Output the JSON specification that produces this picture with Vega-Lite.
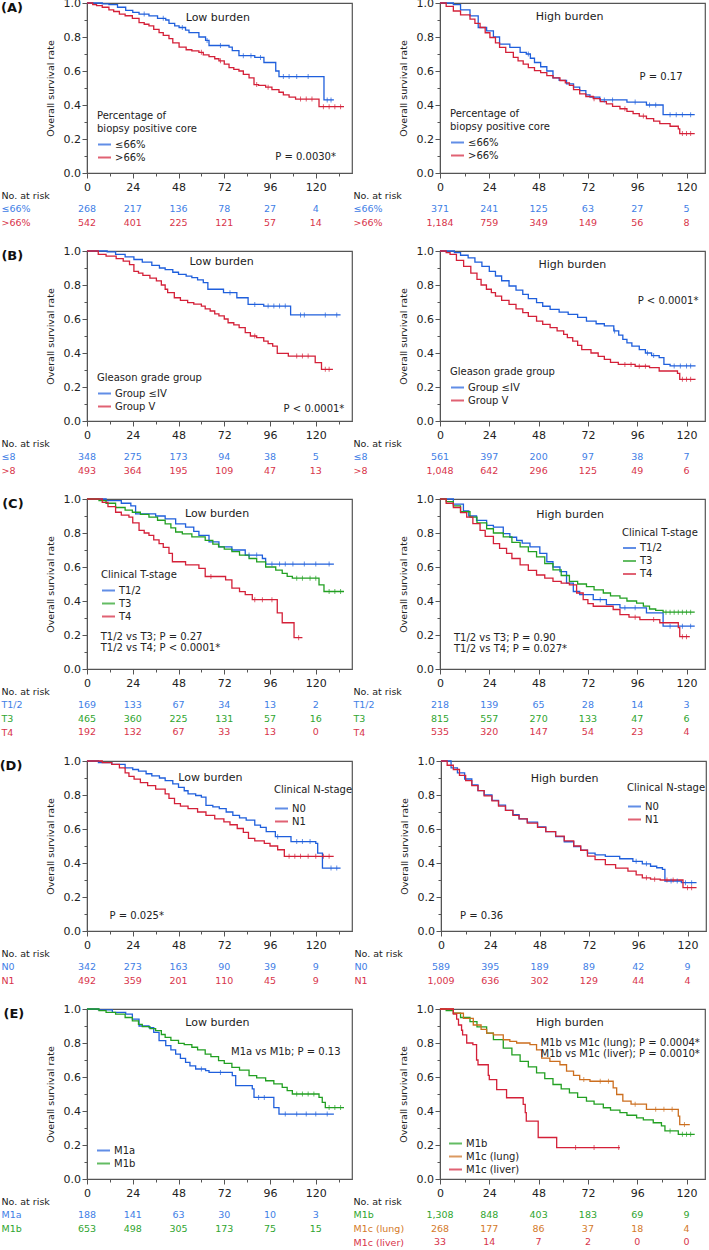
{
"$schema": "https://vega.github.io/schema/vega-lite/v6.json",
"padding": {"left": -1, "top": -4, "right": 0, "bottom": 0},
"config": {
 "font": "DejaVu Sans",
 "view": {"stroke": "#555", "strokeWidth": 1.2},
 "axis": {"labelColor": "#222", "domainColor": "#555", "tickColor": "#555", "grid": false, "labelFontSize": 11, "titleFontSize": 9.5, "titleFontWeight": "normal", "titleColor": "#222", "labelOverlap": false},
 "legend": {"orient": "none", "titleFontSize": 10, "titleFontWeight": "normal", "titleColor": "#222", "titleLineHeight": 13, "titlePadding": 3, "labelFontSize": 10, "labelColor": "#222", "symbolType": "stroke", "symbolSize": 169, "symbolStrokeWidth": 2, "rowPadding": 0, "labelOffset": 3, "padding": 0},
 "title": {"orient": "left", "anchor": "end", "angle": 0, "align": "right", "baseline": "middle", "fontSize": 13, "fontWeight": "bold", "offset": 0, "dx": 4, "dy": 5, "color": "#111"},
 "text": {"color": "#222"}
},
"datasets": {
"km": [
{"p":"A1","g":"≤66%","t":0,"s":1},{"p":"A1","g":"≤66%","t":8,"s":0.995},{"p":"A1","g":"≤66%","t":11.5,"s":0.99},{"p":"A1","g":"≤66%","t":16,"s":0.975},{"p":"A1","g":"≤66%","t":20.3,"s":0.957},{"p":"A1","g":"≤66%","t":24,"s":0.945},{"p":"A1","g":"≤66%","t":27.3,"s":0.935},{"p":"A1","g":"≤66%","t":32.5,"s":0.924},{"p":"A1","g":"≤66%","t":37,"s":0.91},{"p":"A1","g":"≤66%","t":41.3,"s":0.9},{"p":"A1","g":"≤66%","t":43,"s":0.88},{"p":"A1","g":"≤66%","t":46,"s":0.865},{"p":"A1","g":"≤66%","t":48.3,"s":0.856},{"p":"A1","g":"≤66%","t":51.7,"s":0.84},{"p":"A1","g":"≤66%","t":53.5,"s":0.826},{"p":"A1","g":"≤66%","t":58.7,"s":0.8},{"p":"A1","g":"≤66%","t":62.2,"s":0.78},{"p":"A1","g":"≤66%","t":64,"s":0.75},{"p":"A1","g":"≤66%","t":74.5,"s":0.74},{"p":"A1","g":"≤66%","t":76.2,"s":0.72},{"p":"A1","g":"≤66%","t":79.7,"s":0.69},{"p":"A1","g":"≤66%","t":88,"s":0.68},{"p":"A1","g":"≤66%","t":92.8,"s":0.65},{"p":"A1","g":"≤66%","t":99,"s":0.6},{"p":"A1","g":"≤66%","t":100.7,"s":0.567},{"p":"A1","g":"≤66%","t":124.3,"s":0.43},{"p":"A1","g":"≤66%","t":129.5,"s":0.43},
{"p":"A1","g":">66%","t":0,"s":1},{"p":"A1","g":">66%","t":3,"s":0.99},{"p":"A1","g":">66%","t":5,"s":0.985},{"p":"A1","g":">66%","t":8,"s":0.975},{"p":"A1","g":">66%","t":11.5,"s":0.96},{"p":"A1","g":">66%","t":14,"s":0.95},{"p":"A1","g":">66%","t":17,"s":0.935},{"p":"A1","g":">66%","t":20,"s":0.925},{"p":"A1","g":">66%","t":23.8,"s":0.91},{"p":"A1","g":">66%","t":27.3,"s":0.885},{"p":"A1","g":">66%","t":30,"s":0.875},{"p":"A1","g":">66%","t":32.5,"s":0.865},{"p":"A1","g":">66%","t":35,"s":0.845},{"p":"A1","g":">66%","t":37.8,"s":0.826},{"p":"A1","g":">66%","t":40,"s":0.81},{"p":"A1","g":">66%","t":43,"s":0.79},{"p":"A1","g":">66%","t":45,"s":0.765},{"p":"A1","g":">66%","t":48.3,"s":0.74},{"p":"A1","g":">66%","t":52,"s":0.725},{"p":"A1","g":">66%","t":55,"s":0.718},{"p":"A1","g":">66%","t":58.7,"s":0.71},{"p":"A1","g":">66%","t":61,"s":0.695},{"p":"A1","g":">66%","t":64,"s":0.685},{"p":"A1","g":">66%","t":67,"s":0.672},{"p":"A1","g":">66%","t":69.2,"s":0.66},{"p":"A1","g":">66%","t":72,"s":0.64},{"p":"A1","g":">66%","t":74.5,"s":0.62},{"p":"A1","g":">66%","t":77,"s":0.61},{"p":"A1","g":">66%","t":79.7,"s":0.6},{"p":"A1","g":">66%","t":82,"s":0.58},{"p":"A1","g":">66%","t":85,"s":0.56},{"p":"A1","g":">66%","t":87.6,"s":0.52},{"p":"A1","g":">66%","t":90,"s":0.515},{"p":"A1","g":">66%","t":93.7,"s":0.505},{"p":"A1","g":">66%","t":97,"s":0.49},{"p":"A1","g":">66%","t":100.7,"s":0.475},{"p":"A1","g":">66%","t":103,"s":0.46},{"p":"A1","g":">66%","t":106,"s":0.446},{"p":"A1","g":">66%","t":109.4,"s":0.435},{"p":"A1","g":">66%","t":121.7,"s":0.39},{"p":"A1","g":">66%","t":134.8,"s":0.39},
{"p":"A2","g":"≤66%","t":0,"s":1},{"p":"A2","g":"≤66%","t":6.5,"s":0.99},{"p":"A2","g":"≤66%","t":10,"s":0.96},{"p":"A2","g":"≤66%","t":14.6,"s":0.924},{"p":"A2","g":"≤66%","t":18.6,"s":0.856},{"p":"A2","g":"≤66%","t":22.7,"s":0.836},{"p":"A2","g":"≤66%","t":26,"s":0.8},{"p":"A2","g":"≤66%","t":29,"s":0.758},{"p":"A2","g":"≤66%","t":34,"s":0.739},{"p":"A2","g":"≤66%","t":39,"s":0.71},{"p":"A2","g":"≤66%","t":42,"s":0.7},{"p":"A2","g":"≤66%","t":44,"s":0.675},{"p":"A2","g":"≤66%","t":46,"s":0.65},{"p":"A2","g":"≤66%","t":49,"s":0.625},{"p":"A2","g":"≤66%","t":52,"s":0.6},{"p":"A2","g":"≤66%","t":55,"s":0.56},{"p":"A2","g":"≤66%","t":58,"s":0.545},{"p":"A2","g":"≤66%","t":61.6,"s":0.524},{"p":"A2","g":"≤66%","t":65,"s":0.505},{"p":"A2","g":"≤66%","t":68,"s":0.485},{"p":"A2","g":"≤66%","t":71,"s":0.46},{"p":"A2","g":"≤66%","t":73,"s":0.446},{"p":"A2","g":"≤66%","t":77.8,"s":0.43},{"p":"A2","g":"≤66%","t":91,"s":0.417},{"p":"A2","g":"≤66%","t":100.5,"s":0.4},{"p":"A2","g":"≤66%","t":108.6,"s":0.343},{"p":"A2","g":"≤66%","t":124,"s":0.343},
{"p":"A2","g":">66%","t":0,"s":1},{"p":"A2","g":">66%","t":3,"s":0.98},{"p":"A2","g":">66%","t":6.5,"s":0.953},{"p":"A2","g":">66%","t":10,"s":0.93},{"p":"A2","g":">66%","t":14.6,"s":0.905},{"p":"A2","g":">66%","t":17,"s":0.88},{"p":"A2","g":">66%","t":19.5,"s":0.856},{"p":"A2","g":">66%","t":22,"s":0.825},{"p":"A2","g":">66%","t":24.3,"s":0.797},{"p":"A2","g":">66%","t":27,"s":0.765},{"p":"A2","g":">66%","t":29,"s":0.739},{"p":"A2","g":">66%","t":32,"s":0.71},{"p":"A2","g":">66%","t":35.7,"s":0.68},{"p":"A2","g":">66%","t":38,"s":0.66},{"p":"A2","g":">66%","t":40.5,"s":0.641},{"p":"A2","g":">66%","t":43,"s":0.62},{"p":"A2","g":">66%","t":46,"s":0.602},{"p":"A2","g":">66%","t":49,"s":0.59},{"p":"A2","g":">66%","t":52,"s":0.573},{"p":"A2","g":">66%","t":55,"s":0.56},{"p":"A2","g":">66%","t":58.4,"s":0.544},{"p":"A2","g":">66%","t":61,"s":0.53},{"p":"A2","g":">66%","t":63,"s":0.515},{"p":"A2","g":">66%","t":65,"s":0.49},{"p":"A2","g":">66%","t":68,"s":0.466},{"p":"A2","g":">66%","t":71,"s":0.45},{"p":"A2","g":">66%","t":74.6,"s":0.437},{"p":"A2","g":">66%","t":78,"s":0.42},{"p":"A2","g":">66%","t":81,"s":0.407},{"p":"A2","g":">66%","t":84,"s":0.392},{"p":"A2","g":">66%","t":87.6,"s":0.378},{"p":"A2","g":">66%","t":91,"s":0.362},{"p":"A2","g":">66%","t":94,"s":0.349},{"p":"A2","g":">66%","t":97,"s":0.335},{"p":"A2","g":">66%","t":100.5,"s":0.32},{"p":"A2","g":">66%","t":104,"s":0.305},{"p":"A2","g":">66%","t":107,"s":0.29},{"p":"A2","g":">66%","t":112,"s":0.275},{"p":"A2","g":">66%","t":116,"s":0.26},{"p":"A2","g":">66%","t":116.7,"s":0.232},{"p":"A2","g":">66%","t":124,"s":0.232},
{"p":"B1","g":"Group ≤IV","t":0,"s":1},{"p":"B1","g":"Group ≤IV","t":10.6,"s":0.995},{"p":"B1","g":"Group ≤IV","t":15,"s":0.98},{"p":"B1","g":"Group ≤IV","t":20,"s":0.965},{"p":"B1","g":"Group ≤IV","t":24.6,"s":0.95},{"p":"B1","g":"Group ≤IV","t":29,"s":0.935},{"p":"B1","g":"Group ≤IV","t":34,"s":0.916},{"p":"B1","g":"Group ≤IV","t":38,"s":0.9},{"p":"B1","g":"Group ≤IV","t":41,"s":0.89},{"p":"B1","g":"Group ≤IV","t":45,"s":0.875},{"p":"B1","g":"Group ≤IV","t":48,"s":0.863},{"p":"B1","g":"Group ≤IV","t":52,"s":0.852},{"p":"B1","g":"Group ≤IV","t":55,"s":0.843},{"p":"B1","g":"Group ≤IV","t":58,"s":0.83},{"p":"B1","g":"Group ≤IV","t":61,"s":0.814},{"p":"B1","g":"Group ≤IV","t":63.4,"s":0.775},{"p":"B1","g":"Group ≤IV","t":71.6,"s":0.755},{"p":"B1","g":"Group ≤IV","t":78.6,"s":0.725},{"p":"B1","g":"Group ≤IV","t":84.5,"s":0.686},{"p":"B1","g":"Group ≤IV","t":92.7,"s":0.676},{"p":"B1","g":"Group ≤IV","t":106.8,"s":0.624},{"p":"B1","g":"Group ≤IV","t":133,"s":0.624},
{"p":"B1","g":"Group V","t":0,"s":1},{"p":"B1","g":"Group V","t":5.9,"s":0.98},{"p":"B1","g":"Group V","t":10,"s":0.97},{"p":"B1","g":"Group V","t":15.3,"s":0.955},{"p":"B1","g":"Group V","t":19,"s":0.94},{"p":"B1","g":"Group V","t":22.3,"s":0.92},{"p":"B1","g":"Group V","t":24.6,"s":0.88},{"p":"B1","g":"Group V","t":27,"s":0.87},{"p":"B1","g":"Group V","t":29.3,"s":0.857},{"p":"B1","g":"Group V","t":33,"s":0.84},{"p":"B1","g":"Group V","t":36.4,"s":0.824},{"p":"B1","g":"Group V","t":39,"s":0.8},{"p":"B1","g":"Group V","t":41,"s":0.775},{"p":"B1","g":"Group V","t":42.3,"s":0.755},{"p":"B1","g":"Group V","t":45.8,"s":0.725},{"p":"B1","g":"Group V","t":49,"s":0.71},{"p":"B1","g":"Group V","t":52.8,"s":0.696},{"p":"B1","g":"Group V","t":56,"s":0.688},{"p":"B1","g":"Group V","t":60,"s":0.676},{"p":"B1","g":"Group V","t":62,"s":0.66},{"p":"B1","g":"Group V","t":64.6,"s":0.647},{"p":"B1","g":"Group V","t":67,"s":0.63},{"p":"B1","g":"Group V","t":69.2,"s":0.618},{"p":"B1","g":"Group V","t":72,"s":0.6},{"p":"B1","g":"Group V","t":74,"s":0.578},{"p":"B1","g":"Group V","t":77,"s":0.565},{"p":"B1","g":"Group V","t":79.8,"s":0.549},{"p":"B1","g":"Group V","t":83,"s":0.52},{"p":"B1","g":"Group V","t":85.7,"s":0.5},{"p":"B1","g":"Group V","t":89,"s":0.49},{"p":"B1","g":"Group V","t":92.7,"s":0.47},{"p":"B1","g":"Group V","t":95,"s":0.455},{"p":"B1","g":"Group V","t":97.4,"s":0.441},{"p":"B1","g":"Group V","t":99.8,"s":0.398},{"p":"B1","g":"Group V","t":105.6,"s":0.382},{"p":"B1","g":"Group V","t":119.7,"s":0.343},{"p":"B1","g":"Group V","t":123,"s":0.304},{"p":"B1","g":"Group V","t":129,"s":0.304},
{"p":"B2","g":"Group ≤IV","t":0,"s":1},{"p":"B2","g":"Group ≤IV","t":7,"s":0.99},{"p":"B2","g":"Group ≤IV","t":10,"s":0.975},{"p":"B2","g":"Group ≤IV","t":13.7,"s":0.96},{"p":"B2","g":"Group ≤IV","t":17,"s":0.935},{"p":"B2","g":"Group ≤IV","t":20.4,"s":0.91},{"p":"B2","g":"Group ≤IV","t":24,"s":0.88},{"p":"B2","g":"Group ≤IV","t":27,"s":0.853},{"p":"B2","g":"Group ≤IV","t":30,"s":0.825},{"p":"B2","g":"Group ≤IV","t":33.6,"s":0.794},{"p":"B2","g":"Group ≤IV","t":37,"s":0.77},{"p":"B2","g":"Group ≤IV","t":40.3,"s":0.745},{"p":"B2","g":"Group ≤IV","t":43,"s":0.72},{"p":"B2","g":"Group ≤IV","t":47,"s":0.696},{"p":"B2","g":"Group ≤IV","t":50,"s":0.675},{"p":"B2","g":"Group ≤IV","t":53.6,"s":0.657},{"p":"B2","g":"Group ≤IV","t":58,"s":0.64},{"p":"B2","g":"Group ≤IV","t":62.4,"s":0.627},{"p":"B2","g":"Group ≤IV","t":67,"s":0.61},{"p":"B2","g":"Group ≤IV","t":71.3,"s":0.588},{"p":"B2","g":"Group ≤IV","t":76,"s":0.572},{"p":"B2","g":"Group ≤IV","t":80,"s":0.559},{"p":"B2","g":"Group ≤IV","t":84.6,"s":0.53},{"p":"B2","g":"Group ≤IV","t":87,"s":0.505},{"p":"B2","g":"Group ≤IV","t":89,"s":0.48},{"p":"B2","g":"Group ≤IV","t":91,"s":0.46},{"p":"B2","g":"Group ≤IV","t":93.4,"s":0.441},{"p":"B2","g":"Group ≤IV","t":97,"s":0.42},{"p":"B2","g":"Group ≤IV","t":100,"s":0.4},{"p":"B2","g":"Group ≤IV","t":103,"s":0.385},{"p":"B2","g":"Group ≤IV","t":106.7,"s":0.373},{"p":"B2","g":"Group ≤IV","t":109,"s":0.333},{"p":"B2","g":"Group ≤IV","t":112,"s":0.324},{"p":"B2","g":"Group ≤IV","t":124.4,"s":0.324},
{"p":"B2","g":"Group V","t":0,"s":1},{"p":"B2","g":"Group V","t":3,"s":0.99},{"p":"B2","g":"Group V","t":4.9,"s":0.98},{"p":"B2","g":"Group V","t":8,"s":0.945},{"p":"B2","g":"Group V","t":11.5,"s":0.91},{"p":"B2","g":"Group V","t":15,"s":0.87},{"p":"B2","g":"Group V","t":18,"s":0.833},{"p":"B2","g":"Group V","t":20,"s":0.8},{"p":"B2","g":"Group V","t":22.6,"s":0.775},{"p":"B2","g":"Group V","t":25,"s":0.755},{"p":"B2","g":"Group V","t":27,"s":0.735},{"p":"B2","g":"Group V","t":30,"s":0.71},{"p":"B2","g":"Group V","t":33.6,"s":0.686},{"p":"B2","g":"Group V","t":37,"s":0.66},{"p":"B2","g":"Group V","t":40.3,"s":0.637},{"p":"B2","g":"Group V","t":43,"s":0.615},{"p":"B2","g":"Group V","t":47,"s":0.588},{"p":"B2","g":"Group V","t":50,"s":0.568},{"p":"B2","g":"Group V","t":53.6,"s":0.549},{"p":"B2","g":"Group V","t":57,"s":0.53},{"p":"B2","g":"Group V","t":60.2,"s":0.51},{"p":"B2","g":"Group V","t":62,"s":0.49},{"p":"B2","g":"Group V","t":64.6,"s":0.47},{"p":"B2","g":"Group V","t":67,"s":0.445},{"p":"B2","g":"Group V","t":69,"s":0.42},{"p":"B2","g":"Group V","t":73.5,"s":0.4},{"p":"B2","g":"Group V","t":77,"s":0.38},{"p":"B2","g":"Group V","t":80,"s":0.363},{"p":"B2","g":"Group V","t":83,"s":0.345},{"p":"B2","g":"Group V","t":86.8,"s":0.333},{"p":"B2","g":"Group V","t":95,"s":0.322},{"p":"B2","g":"Group V","t":102,"s":0.314},{"p":"B2","g":"Group V","t":106.7,"s":0.294},{"p":"B2","g":"Group V","t":115.6,"s":0.28},{"p":"B2","g":"Group V","t":116.7,"s":0.245},{"p":"B2","g":"Group V","t":124.4,"s":0.245},
{"p":"C1","g":"T1/2","t":0,"s":1},{"p":"C1","g":"T1/2","t":10,"s":0.99},{"p":"C1","g":"T1/2","t":18,"s":0.975},{"p":"C1","g":"T1/2","t":23,"s":0.96},{"p":"C1","g":"T1/2","t":25.5,"s":0.913},{"p":"C1","g":"T1/2","t":36,"s":0.9},{"p":"C1","g":"T1/2","t":41,"s":0.883},{"p":"C1","g":"T1/2","t":46.5,"s":0.854},{"p":"C1","g":"T1/2","t":51.7,"s":0.835},{"p":"C1","g":"T1/2","t":56,"s":0.81},{"p":"C1","g":"T1/2","t":58.7,"s":0.786},{"p":"C1","g":"T1/2","t":64,"s":0.748},{"p":"C1","g":"T1/2","t":69.2,"s":0.718},{"p":"C1","g":"T1/2","t":76,"s":0.7},{"p":"C1","g":"T1/2","t":83,"s":0.67},{"p":"C1","g":"T1/2","t":92,"s":0.65},{"p":"C1","g":"T1/2","t":93.7,"s":0.617},{"p":"C1","g":"T1/2","t":129.5,"s":0.617},
{"p":"C1","g":"T3","t":0,"s":1},{"p":"C1","g":"T3","t":6.3,"s":0.99},{"p":"C1","g":"T3","t":10,"s":0.975},{"p":"C1","g":"T3","t":15,"s":0.95},{"p":"C1","g":"T3","t":20,"s":0.935},{"p":"C1","g":"T3","t":23.8,"s":0.922},{"p":"C1","g":"T3","t":28,"s":0.91},{"p":"C1","g":"T3","t":32.5,"s":0.893},{"p":"C1","g":"T3","t":37,"s":0.875},{"p":"C1","g":"T3","t":41,"s":0.854},{"p":"C1","g":"T3","t":44,"s":0.83},{"p":"C1","g":"T3","t":46.5,"s":0.806},{"p":"C1","g":"T3","t":50,"s":0.795},{"p":"C1","g":"T3","t":55,"s":0.777},{"p":"C1","g":"T3","t":62,"s":0.757},{"p":"C1","g":"T3","t":66,"s":0.735},{"p":"C1","g":"T3","t":69,"s":0.718},{"p":"C1","g":"T3","t":72,"s":0.705},{"p":"C1","g":"T3","t":76,"s":0.69},{"p":"C1","g":"T3","t":80,"s":0.67},{"p":"C1","g":"T3","t":85,"s":0.65},{"p":"C1","g":"T3","t":89,"s":0.63},{"p":"C1","g":"T3","t":93.7,"s":0.6},{"p":"C1","g":"T3","t":99,"s":0.582},{"p":"C1","g":"T3","t":102.4,"s":0.563},{"p":"C1","g":"T3","t":105,"s":0.545},{"p":"C1","g":"T3","t":107.7,"s":0.534},{"p":"C1","g":"T3","t":121.7,"s":0.495},{"p":"C1","g":"T3","t":124.3,"s":0.456},{"p":"C1","g":"T3","t":134.8,"s":0.456},
{"p":"C1","g":"T4","t":0,"s":1},{"p":"C1","g":"T4","t":8,"s":0.98},{"p":"C1","g":"T4","t":11,"s":0.955},{"p":"C1","g":"T4","t":15,"s":0.922},{"p":"C1","g":"T4","t":18,"s":0.905},{"p":"C1","g":"T4","t":22,"s":0.893},{"p":"C1","g":"T4","t":24,"s":0.86},{"p":"C1","g":"T4","t":27.3,"s":0.816},{"p":"C1","g":"T4","t":30,"s":0.8},{"p":"C1","g":"T4","t":32.5,"s":0.786},{"p":"C1","g":"T4","t":35,"s":0.76},{"p":"C1","g":"T4","t":37.8,"s":0.738},{"p":"C1","g":"T4","t":40,"s":0.715},{"p":"C1","g":"T4","t":43,"s":0.68},{"p":"C1","g":"T4","t":44.8,"s":0.631},{"p":"C1","g":"T4","t":51.7,"s":0.612},{"p":"C1","g":"T4","t":58.7,"s":0.592},{"p":"C1","g":"T4","t":62,"s":0.544},{"p":"C1","g":"T4","t":72.7,"s":0.524},{"p":"C1","g":"T4","t":76,"s":0.476},{"p":"C1","g":"T4","t":80,"s":0.455},{"p":"C1","g":"T4","t":83,"s":0.437},{"p":"C1","g":"T4","t":86.7,"s":0.408},{"p":"C1","g":"T4","t":99,"s":0.408},{"p":"C1","g":"T4","t":99.8,"s":0.33},{"p":"C1","g":"T4","t":102.4,"s":0.272},{"p":"C1","g":"T4","t":108.6,"s":0.184},{"p":"C1","g":"T4","t":113,"s":0.184},
{"p":"C2","g":"T1/2","t":0,"s":1},{"p":"C2","g":"T1/2","t":6.5,"s":0.97},{"p":"C2","g":"T1/2","t":11.4,"s":0.93},{"p":"C2","g":"T1/2","t":14,"s":0.9},{"p":"C2","g":"T1/2","t":17.8,"s":0.874},{"p":"C2","g":"T1/2","t":22.7,"s":0.845},{"p":"C2","g":"T1/2","t":26,"s":0.835},{"p":"C2","g":"T1/2","t":30.8,"s":0.796},{"p":"C2","g":"T1/2","t":34,"s":0.775},{"p":"C2","g":"T1/2","t":37.3,"s":0.757},{"p":"C2","g":"T1/2","t":40,"s":0.74},{"p":"C2","g":"T1/2","t":43.8,"s":0.718},{"p":"C2","g":"T1/2","t":48.6,"s":0.68},{"p":"C2","g":"T1/2","t":52,"s":0.631},{"p":"C2","g":"T1/2","t":55,"s":0.6},{"p":"C2","g":"T1/2","t":58.4,"s":0.573},{"p":"C2","g":"T1/2","t":61.6,"s":0.505},{"p":"C2","g":"T1/2","t":64.9,"s":0.456},{"p":"C2","g":"T1/2","t":68,"s":0.437},{"p":"C2","g":"T1/2","t":74.6,"s":0.408},{"p":"C2","g":"T1/2","t":81,"s":0.379},{"p":"C2","g":"T1/2","t":87.6,"s":0.36},{"p":"C2","g":"T1/2","t":100.5,"s":0.33},{"p":"C2","g":"T1/2","t":108.6,"s":0.252},{"p":"C2","g":"T1/2","t":124,"s":0.252},
{"p":"C2","g":"T3","t":0,"s":1},{"p":"C2","g":"T3","t":3,"s":0.985},{"p":"C2","g":"T3","t":6.5,"s":0.96},{"p":"C2","g":"T3","t":10,"s":0.925},{"p":"C2","g":"T3","t":14.6,"s":0.893},{"p":"C2","g":"T3","t":18,"s":0.86},{"p":"C2","g":"T3","t":22.7,"s":0.825},{"p":"C2","g":"T3","t":26,"s":0.8},{"p":"C2","g":"T3","t":30.8,"s":0.777},{"p":"C2","g":"T3","t":35,"s":0.745},{"p":"C2","g":"T3","t":39,"s":0.718},{"p":"C2","g":"T3","t":43,"s":0.69},{"p":"C2","g":"T3","t":47,"s":0.66},{"p":"C2","g":"T3","t":51,"s":0.62},{"p":"C2","g":"T3","t":55,"s":0.583},{"p":"C2","g":"T3","t":59,"s":0.55},{"p":"C2","g":"T3","t":63,"s":0.515},{"p":"C2","g":"T3","t":67,"s":0.5},{"p":"C2","g":"T3","t":71.3,"s":0.485},{"p":"C2","g":"T3","t":75,"s":0.465},{"p":"C2","g":"T3","t":79.5,"s":0.447},{"p":"C2","g":"T3","t":83,"s":0.43},{"p":"C2","g":"T3","t":87.6,"s":0.417},{"p":"C2","g":"T3","t":91,"s":0.4},{"p":"C2","g":"T3","t":95.7,"s":0.388},{"p":"C2","g":"T3","t":99,"s":0.37},{"p":"C2","g":"T3","t":102,"s":0.353},{"p":"C2","g":"T3","t":105,"s":0.345},{"p":"C2","g":"T3","t":108.6,"s":0.334},{"p":"C2","g":"T3","t":124,"s":0.334},
{"p":"C2","g":"T4","t":0,"s":1},{"p":"C2","g":"T4","t":3,"s":0.975},{"p":"C2","g":"T4","t":6.5,"s":0.95},{"p":"C2","g":"T4","t":10,"s":0.92},{"p":"C2","g":"T4","t":13,"s":0.893},{"p":"C2","g":"T4","t":16,"s":0.855},{"p":"C2","g":"T4","t":19.5,"s":0.816},{"p":"C2","g":"T4","t":22,"s":0.78},{"p":"C2","g":"T4","t":26,"s":0.738},{"p":"C2","g":"T4","t":29,"s":0.71},{"p":"C2","g":"T4","t":32.4,"s":0.68},{"p":"C2","g":"T4","t":35,"s":0.65},{"p":"C2","g":"T4","t":39,"s":0.612},{"p":"C2","g":"T4","t":43,"s":0.58},{"p":"C2","g":"T4","t":47,"s":0.553},{"p":"C2","g":"T4","t":51,"s":0.535},{"p":"C2","g":"T4","t":55,"s":0.515},{"p":"C2","g":"T4","t":59,"s":0.505},{"p":"C2","g":"T4","t":63,"s":0.495},{"p":"C2","g":"T4","t":66.5,"s":0.447},{"p":"C2","g":"T4","t":69.7,"s":0.408},{"p":"C2","g":"T4","t":72,"s":0.385},{"p":"C2","g":"T4","t":74.6,"s":0.369},{"p":"C2","g":"T4","t":84.3,"s":0.35},{"p":"C2","g":"T4","t":87.6,"s":0.32},{"p":"C2","g":"T4","t":92,"s":0.305},{"p":"C2","g":"T4","t":97.3,"s":0.291},{"p":"C2","g":"T4","t":107,"s":0.272},{"p":"C2","g":"T4","t":116,"s":0.243},{"p":"C2","g":"T4","t":116.7,"s":0.19},{"p":"C2","g":"T4","t":121.6,"s":0.19},
{"p":"D1","g":"N0","t":0,"s":1},{"p":"D1","g":"N0","t":6,"s":0.99},{"p":"D1","g":"N0","t":13,"s":0.98},{"p":"D1","g":"N0","t":20,"s":0.96},{"p":"D1","g":"N0","t":24,"s":0.95},{"p":"D1","g":"N0","t":27,"s":0.94},{"p":"D1","g":"N0","t":31,"s":0.925},{"p":"D1","g":"N0","t":34,"s":0.913},{"p":"D1","g":"N0","t":38,"s":0.9},{"p":"D1","g":"N0","t":41,"s":0.884},{"p":"D1","g":"N0","t":45,"s":0.865},{"p":"D1","g":"N0","t":48,"s":0.845},{"p":"D1","g":"N0","t":51,"s":0.825},{"p":"D1","g":"N0","t":53,"s":0.807},{"p":"D1","g":"N0","t":57,"s":0.797},{"p":"D1","g":"N0","t":60,"s":0.787},{"p":"D1","g":"N0","t":62.4,"s":0.739},{"p":"D1","g":"N0","t":66,"s":0.73},{"p":"D1","g":"N0","t":69.4,"s":0.72},{"p":"D1","g":"N0","t":73,"s":0.7},{"p":"D1","g":"N0","t":76.5,"s":0.68},{"p":"D1","g":"N0","t":80,"s":0.665},{"p":"D1","g":"N0","t":83.5,"s":0.652},{"p":"D1","g":"N0","t":88,"s":0.623},{"p":"D1","g":"N0","t":91,"s":0.61},{"p":"D1","g":"N0","t":94,"s":0.584},{"p":"D1","g":"N0","t":98.8,"s":0.555},{"p":"D1","g":"N0","t":107,"s":0.526},{"p":"D1","g":"N0","t":120,"s":0.516},{"p":"D1","g":"N0","t":121,"s":0.458},{"p":"D1","g":"N0","t":123.5,"s":0.37},{"p":"D1","g":"N0","t":133,"s":0.37},
{"p":"D1","g":"N1","t":0,"s":1},{"p":"D1","g":"N1","t":8,"s":0.99},{"p":"D1","g":"N1","t":13,"s":0.98},{"p":"D1","g":"N1","t":17,"s":0.96},{"p":"D1","g":"N1","t":20,"s":0.93},{"p":"D1","g":"N1","t":22,"s":0.91},{"p":"D1","g":"N1","t":24.7,"s":0.893},{"p":"D1","g":"N1","t":28,"s":0.873},{"p":"D1","g":"N1","t":31.8,"s":0.855},{"p":"D1","g":"N1","t":36,"s":0.835},{"p":"D1","g":"N1","t":41,"s":0.807},{"p":"D1","g":"N1","t":43,"s":0.78},{"p":"D1","g":"N1","t":45.9,"s":0.749},{"p":"D1","g":"N1","t":49,"s":0.735},{"p":"D1","g":"N1","t":53,"s":0.72},{"p":"D1","g":"N1","t":58,"s":0.7},{"p":"D1","g":"N1","t":62.4,"s":0.68},{"p":"D1","g":"N1","t":67,"s":0.66},{"p":"D1","g":"N1","t":71.8,"s":0.642},{"p":"D1","g":"N1","t":75,"s":0.625},{"p":"D1","g":"N1","t":78.8,"s":0.603},{"p":"D1","g":"N1","t":82,"s":0.58},{"p":"D1","g":"N1","t":84.7,"s":0.545},{"p":"D1","g":"N1","t":88,"s":0.53},{"p":"D1","g":"N1","t":93,"s":0.516},{"p":"D1","g":"N1","t":96,"s":0.5},{"p":"D1","g":"N1","t":100,"s":0.478},{"p":"D1","g":"N1","t":103.5,"s":0.439},{"p":"D1","g":"N1","t":129.4,"s":0.439},
{"p":"D2","g":"N0","t":0,"s":1},{"p":"D2","g":"N0","t":4.9,"s":0.96},{"p":"D2","g":"N0","t":8,"s":0.93},{"p":"D2","g":"N0","t":11.5,"s":0.894},{"p":"D2","g":"N0","t":15,"s":0.86},{"p":"D2","g":"N0","t":18,"s":0.826},{"p":"D2","g":"N0","t":21,"s":0.8},{"p":"D2","g":"N0","t":24.8,"s":0.768},{"p":"D2","g":"N0","t":28,"s":0.74},{"p":"D2","g":"N0","t":31.4,"s":0.71},{"p":"D2","g":"N0","t":35,"s":0.685},{"p":"D2","g":"N0","t":38,"s":0.66},{"p":"D2","g":"N0","t":42,"s":0.64},{"p":"D2","g":"N0","t":47,"s":0.613},{"p":"D2","g":"N0","t":51,"s":0.585},{"p":"D2","g":"N0","t":55.8,"s":0.555},{"p":"D2","g":"N0","t":60,"s":0.525},{"p":"D2","g":"N0","t":64.6,"s":0.497},{"p":"D2","g":"N0","t":68,"s":0.475},{"p":"D2","g":"N0","t":71.3,"s":0.458},{"p":"D2","g":"N0","t":75,"s":0.448},{"p":"D2","g":"N0","t":80,"s":0.439},{"p":"D2","g":"N0","t":87,"s":0.425},{"p":"D2","g":"N0","t":93.4,"s":0.41},{"p":"D2","g":"N0","t":98,"s":0.395},{"p":"D2","g":"N0","t":102,"s":0.381},{"p":"D2","g":"N0","t":105,"s":0.372},{"p":"D2","g":"N0","t":107.8,"s":0.362},{"p":"D2","g":"N0","t":109,"s":0.294},{"p":"D2","g":"N0","t":117,"s":0.284},{"p":"D2","g":"N0","t":124.4,"s":0.284},
{"p":"D2","g":"N1","t":0,"s":1},{"p":"D2","g":"N1","t":3,"s":0.975},{"p":"D2","g":"N1","t":6,"s":0.95},{"p":"D2","g":"N1","t":9,"s":0.915},{"p":"D2","g":"N1","t":12,"s":0.885},{"p":"D2","g":"N1","t":15,"s":0.855},{"p":"D2","g":"N1","t":18,"s":0.826},{"p":"D2","g":"N1","t":21,"s":0.795},{"p":"D2","g":"N1","t":24.8,"s":0.765},{"p":"D2","g":"N1","t":28,"s":0.735},{"p":"D2","g":"N1","t":31.4,"s":0.71},{"p":"D2","g":"N1","t":35,"s":0.68},{"p":"D2","g":"N1","t":38,"s":0.66},{"p":"D2","g":"N1","t":42,"s":0.635},{"p":"D2","g":"N1","t":47,"s":0.61},{"p":"D2","g":"N1","t":51,"s":0.585},{"p":"D2","g":"N1","t":55.8,"s":0.558},{"p":"D2","g":"N1","t":60,"s":0.53},{"p":"D2","g":"N1","t":64.6,"s":0.5},{"p":"D2","g":"N1","t":68,"s":0.475},{"p":"D2","g":"N1","t":71.3,"s":0.44},{"p":"D2","g":"N1","t":75,"s":0.42},{"p":"D2","g":"N1","t":80,"s":0.39},{"p":"D2","g":"N1","t":85,"s":0.37},{"p":"D2","g":"N1","t":91,"s":0.352},{"p":"D2","g":"N1","t":95,"s":0.33},{"p":"D2","g":"N1","t":98,"s":0.313},{"p":"D2","g":"N1","t":102,"s":0.305},{"p":"D2","g":"N1","t":106.7,"s":0.3},{"p":"D2","g":"N1","t":117.8,"s":0.255},{"p":"D2","g":"N1","t":124.4,"s":0.255},
{"p":"E1","g":"M1a","t":0,"s":1},{"p":"E1","g":"M1a","t":6,"s":0.995},{"p":"E1","g":"M1a","t":13.3,"s":0.98},{"p":"E1","g":"M1a","t":20.3,"s":0.97},{"p":"E1","g":"M1a","t":23.8,"s":0.94},{"p":"E1","g":"M1a","t":27.3,"s":0.9},{"p":"E1","g":"M1a","t":32.5,"s":0.89},{"p":"E1","g":"M1a","t":35,"s":0.863},{"p":"E1","g":"M1a","t":37.8,"s":0.814},{"p":"E1","g":"M1a","t":41.3,"s":0.784},{"p":"E1","g":"M1a","t":44,"s":0.76},{"p":"E1","g":"M1a","t":46.5,"s":0.735},{"p":"E1","g":"M1a","t":49,"s":0.71},{"p":"E1","g":"M1a","t":51.7,"s":0.686},{"p":"E1","g":"M1a","t":54,"s":0.665},{"p":"E1","g":"M1a","t":57,"s":0.647},{"p":"E1","g":"M1a","t":62.2,"s":0.637},{"p":"E1","g":"M1a","t":64,"s":0.627},{"p":"E1","g":"M1a","t":76.2,"s":0.608},{"p":"E1","g":"M1a","t":78,"s":0.549},{"p":"E1","g":"M1a","t":86.7,"s":0.53},{"p":"E1","g":"M1a","t":87.6,"s":0.48},{"p":"E1","g":"M1a","t":98,"s":0.42},{"p":"E1","g":"M1a","t":100.7,"s":0.382},{"p":"E1","g":"M1a","t":129.5,"s":0.382},
{"p":"E1","g":"M1b","t":0,"s":1},{"p":"E1","g":"M1b","t":6.3,"s":0.99},{"p":"E1","g":"M1b","t":10,"s":0.98},{"p":"E1","g":"M1b","t":15,"s":0.97},{"p":"E1","g":"M1b","t":20,"s":0.95},{"p":"E1","g":"M1b","t":23.8,"s":0.93},{"p":"E1","g":"M1b","t":27,"s":0.91},{"p":"E1","g":"M1b","t":29,"s":0.896},{"p":"E1","g":"M1b","t":33,"s":0.885},{"p":"E1","g":"M1b","t":36,"s":0.873},{"p":"E1","g":"M1b","t":39,"s":0.85},{"p":"E1","g":"M1b","t":41,"s":0.833},{"p":"E1","g":"M1b","t":44,"s":0.815},{"p":"E1","g":"M1b","t":48,"s":0.798},{"p":"E1","g":"M1b","t":51,"s":0.79},{"p":"E1","g":"M1b","t":55,"s":0.775},{"p":"E1","g":"M1b","t":58,"s":0.76},{"p":"E1","g":"M1b","t":62,"s":0.735},{"p":"E1","g":"M1b","t":65,"s":0.72},{"p":"E1","g":"M1b","t":69,"s":0.696},{"p":"E1","g":"M1b","t":72,"s":0.68},{"p":"E1","g":"M1b","t":76,"s":0.657},{"p":"E1","g":"M1b","t":80,"s":0.64},{"p":"E1","g":"M1b","t":85,"s":0.608},{"p":"E1","g":"M1b","t":89,"s":0.595},{"p":"E1","g":"M1b","t":93.7,"s":0.578},{"p":"E1","g":"M1b","t":98,"s":0.56},{"p":"E1","g":"M1b","t":102.4,"s":0.539},{"p":"E1","g":"M1b","t":105,"s":0.52},{"p":"E1","g":"M1b","t":107.7,"s":0.5},{"p":"E1","g":"M1b","t":121.7,"s":0.48},{"p":"E1","g":"M1b","t":123.4,"s":0.451},{"p":"E1","g":"M1b","t":125,"s":0.42},{"p":"E1","g":"M1b","t":134.8,"s":0.42},
{"p":"E2","g":"M1b","t":0,"s":1},{"p":"E2","g":"M1b","t":3,"s":0.99},{"p":"E2","g":"M1b","t":6.5,"s":0.975},{"p":"E2","g":"M1b","t":10,"s":0.95},{"p":"E2","g":"M1b","t":14.6,"s":0.926},{"p":"E2","g":"M1b","t":18,"s":0.895},{"p":"E2","g":"M1b","t":22.7,"s":0.858},{"p":"E2","g":"M1b","t":26,"s":0.82},{"p":"E2","g":"M1b","t":30.8,"s":0.77},{"p":"E2","g":"M1b","t":35,"s":0.73},{"p":"E2","g":"M1b","t":39,"s":0.692},{"p":"E2","g":"M1b","t":43,"s":0.66},{"p":"E2","g":"M1b","t":47,"s":0.624},{"p":"E2","g":"M1b","t":51,"s":0.59},{"p":"E2","g":"M1b","t":55,"s":0.556},{"p":"E2","g":"M1b","t":59,"s":0.53},{"p":"E2","g":"M1b","t":63,"s":0.507},{"p":"E2","g":"M1b","t":67,"s":0.48},{"p":"E2","g":"M1b","t":71.3,"s":0.458},{"p":"E2","g":"M1b","t":75,"s":0.44},{"p":"E2","g":"M1b","t":79.5,"s":0.419},{"p":"E2","g":"M1b","t":83,"s":0.405},{"p":"E2","g":"M1b","t":87.6,"s":0.39},{"p":"E2","g":"M1b","t":91,"s":0.375},{"p":"E2","g":"M1b","t":95.7,"s":0.36},{"p":"E2","g":"M1b","t":99,"s":0.348},{"p":"E2","g":"M1b","t":103.8,"s":0.331},{"p":"E2","g":"M1b","t":107.8,"s":0.312},{"p":"E2","g":"M1b","t":109.5,"s":0.283},{"p":"E2","g":"M1b","t":116,"s":0.263},{"p":"E2","g":"M1b","t":124,"s":0.263},
{"p":"E2","g":"M1c (lung)","t":0,"s":1},{"p":"E2","g":"M1c (lung)","t":6.5,"s":0.975},{"p":"E2","g":"M1c (lung)","t":11.4,"s":0.945},{"p":"E2","g":"M1c (lung)","t":16.2,"s":0.906},{"p":"E2","g":"M1c (lung)","t":20,"s":0.88},{"p":"E2","g":"M1c (lung)","t":22.7,"s":0.858},{"p":"E2","g":"M1c (lung)","t":26,"s":0.848},{"p":"E2","g":"M1c (lung)","t":30.8,"s":0.819},{"p":"E2","g":"M1c (lung)","t":34,"s":0.81},{"p":"E2","g":"M1c (lung)","t":37.3,"s":0.8},{"p":"E2","g":"M1c (lung)","t":43.8,"s":0.79},{"p":"E2","g":"M1c (lung)","t":47,"s":0.76},{"p":"E2","g":"M1c (lung)","t":49.5,"s":0.711},{"p":"E2","g":"M1c (lung)","t":53.5,"s":0.692},{"p":"E2","g":"M1c (lung)","t":58.4,"s":0.672},{"p":"E2","g":"M1c (lung)","t":61.6,"s":0.634},{"p":"E2","g":"M1c (lung)","t":65,"s":0.61},{"p":"E2","g":"M1c (lung)","t":68,"s":0.585},{"p":"E2","g":"M1c (lung)","t":73,"s":0.575},{"p":"E2","g":"M1c (lung)","t":84.3,"s":0.536},{"p":"E2","g":"M1c (lung)","t":86,"s":0.497},{"p":"E2","g":"M1c (lung)","t":89,"s":0.458},{"p":"E2","g":"M1c (lung)","t":93,"s":0.44},{"p":"E2","g":"M1c (lung)","t":100.5,"s":0.41},{"p":"E2","g":"M1c (lung)","t":116,"s":0.37},{"p":"E2","g":"M1c (lung)","t":116.7,"s":0.32},{"p":"E2","g":"M1c (lung)","t":121.6,"s":0.32},
{"p":"E2","g":"M1c (liver)","t":0,"s":1},{"p":"E2","g":"M1c (liver)","t":6.5,"s":0.97},{"p":"E2","g":"M1c (liver)","t":8.1,"s":0.94},{"p":"E2","g":"M1c (liver)","t":9,"s":0.906},{"p":"E2","g":"M1c (liver)","t":10.5,"s":0.875},{"p":"E2","g":"M1c (liver)","t":11,"s":0.848},{"p":"E2","g":"M1c (liver)","t":13,"s":0.8},{"p":"E2","g":"M1c (liver)","t":16,"s":0.79},{"p":"E2","g":"M1c (liver)","t":17.8,"s":0.7},{"p":"E2","g":"M1c (liver)","t":18.5,"s":0.672},{"p":"E2","g":"M1c (liver)","t":23.5,"s":0.61},{"p":"E2","g":"M1c (liver)","t":24,"s":0.585},{"p":"E2","g":"M1c (liver)","t":27.6,"s":0.526},{"p":"E2","g":"M1c (liver)","t":32.4,"s":0.478},{"p":"E2","g":"M1c (liver)","t":40.5,"s":0.439},{"p":"E2","g":"M1c (liver)","t":41.5,"s":0.39},{"p":"E2","g":"M1c (liver)","t":42,"s":0.341},{"p":"E2","g":"M1c (liver)","t":47.8,"s":0.244},{"p":"E2","g":"M1c (liver)","t":56.8,"s":0.185},{"p":"E2","g":"M1c (liver)","t":87.6,"s":0.185}
],
"cens": [
{"p":"A1","g":"≤66%","t":30,"s":0.935},{"p":"A1","g":"≤66%","t":40,"s":0.91},{"p":"A1","g":"≤66%","t":50,"s":0.856},{"p":"A1","g":"≤66%","t":63,"s":0.78},{"p":"A1","g":"≤66%","t":70,"s":0.75},{"p":"A1","g":"≤66%","t":82,"s":0.69},{"p":"A1","g":"≤66%","t":86,"s":0.69},{"p":"A1","g":"≤66%","t":91,"s":0.68},{"p":"A1","g":"≤66%","t":103,"s":0.567},{"p":"A1","g":"≤66%","t":106,"s":0.567},{"p":"A1","g":"≤66%","t":110,"s":0.567},{"p":"A1","g":"≤66%","t":116,"s":0.567},{"p":"A1","g":"≤66%","t":126,"s":0.43},{"p":"A1","g":"≤66%","t":128,"s":0.43},
{"p":"A1","g":">66%","t":60,"s":0.71},{"p":"A1","g":">66%","t":70,"s":0.66},{"p":"A1","g":">66%","t":89,"s":0.52},{"p":"A1","g":">66%","t":95,"s":0.505},{"p":"A1","g":">66%","t":112,"s":0.435},{"p":"A1","g":">66%","t":115,"s":0.435},{"p":"A1","g":">66%","t":118,"s":0.435},{"p":"A1","g":">66%","t":124,"s":0.39},{"p":"A1","g":">66%","t":127,"s":0.39},{"p":"A1","g":">66%","t":130,"s":0.39},{"p":"A1","g":">66%","t":133,"s":0.39},
{"p":"A2","g":"≤66%","t":43,"s":0.7},{"p":"A2","g":"≤66%","t":80,"s":0.43},{"p":"A2","g":"≤66%","t":84,"s":0.43},{"p":"A2","g":"≤66%","t":95,"s":0.417},{"p":"A2","g":"≤66%","t":102,"s":0.4},{"p":"A2","g":"≤66%","t":105,"s":0.4},{"p":"A2","g":"≤66%","t":112,"s":0.343},{"p":"A2","g":"≤66%","t":115,"s":0.343},{"p":"A2","g":"≤66%","t":118,"s":0.343},{"p":"A2","g":"≤66%","t":122,"s":0.343},
{"p":"A2","g":">66%","t":75,"s":0.437},{"p":"A2","g":">66%","t":90,"s":0.378},{"p":"A2","g":">66%","t":99,"s":0.335},{"p":"A2","g":">66%","t":118,"s":0.232},{"p":"A2","g":">66%","t":120,"s":0.232},{"p":"A2","g":">66%","t":122,"s":0.232},
{"p":"B1","g":"Group ≤IV","t":75,"s":0.755},{"p":"B1","g":"Group ≤IV","t":88,"s":0.686},{"p":"B1","g":"Group ≤IV","t":95,"s":0.676},{"p":"B1","g":"Group ≤IV","t":98,"s":0.676},{"p":"B1","g":"Group ≤IV","t":101,"s":0.676},{"p":"B1","g":"Group ≤IV","t":104,"s":0.676},{"p":"B1","g":"Group ≤IV","t":112,"s":0.624},{"p":"B1","g":"Group ≤IV","t":114,"s":0.624},{"p":"B1","g":"Group ≤IV","t":125,"s":0.624},{"p":"B1","g":"Group ≤IV","t":131,"s":0.624},
{"p":"B1","g":"Group V","t":88,"s":0.5},{"p":"B1","g":"Group V","t":110,"s":0.382},{"p":"B1","g":"Group V","t":113,"s":0.382},{"p":"B1","g":"Group V","t":116,"s":0.382},{"p":"B1","g":"Group V","t":125,"s":0.304},{"p":"B1","g":"Group V","t":127,"s":0.304},
{"p":"B2","g":"Group ≤IV","t":85,"s":0.53},{"p":"B2","g":"Group ≤IV","t":101,"s":0.4},{"p":"B2","g":"Group ≤IV","t":104,"s":0.385},{"p":"B2","g":"Group ≤IV","t":114,"s":0.324},{"p":"B2","g":"Group ≤IV","t":117,"s":0.324},{"p":"B2","g":"Group ≤IV","t":120,"s":0.324},{"p":"B2","g":"Group ≤IV","t":122,"s":0.324},
{"p":"B2","g":"Group V","t":90,"s":0.333},{"p":"B2","g":"Group V","t":93,"s":0.333},{"p":"B2","g":"Group V","t":97,"s":0.322},{"p":"B2","g":"Group V","t":100,"s":0.322},{"p":"B2","g":"Group V","t":118,"s":0.245},{"p":"B2","g":"Group V","t":120,"s":0.245},{"p":"B2","g":"Group V","t":122,"s":0.245},
{"p":"C1","g":"T1/2","t":85,"s":0.67},{"p":"C1","g":"T1/2","t":89,"s":0.67},{"p":"C1","g":"T1/2","t":97,"s":0.617},{"p":"C1","g":"T1/2","t":101,"s":0.617},{"p":"C1","g":"T1/2","t":104,"s":0.617},{"p":"C1","g":"T1/2","t":108,"s":0.617},{"p":"C1","g":"T1/2","t":114,"s":0.617},{"p":"C1","g":"T1/2","t":120,"s":0.617},{"p":"C1","g":"T1/2","t":127,"s":0.617},
{"p":"C1","g":"T3","t":110,"s":0.534},{"p":"C1","g":"T3","t":113,"s":0.534},{"p":"C1","g":"T3","t":117,"s":0.534},{"p":"C1","g":"T3","t":120,"s":0.534},{"p":"C1","g":"T3","t":127,"s":0.456},{"p":"C1","g":"T3","t":130,"s":0.456},{"p":"C1","g":"T3","t":133,"s":0.456},
{"p":"C1","g":"T4","t":65,"s":0.544},{"p":"C1","g":"T4","t":88,"s":0.408},{"p":"C1","g":"T4","t":92,"s":0.408},{"p":"C1","g":"T4","t":97,"s":0.408},{"p":"C1","g":"T4","t":111,"s":0.184},
{"p":"C2","g":"T1/2","t":78,"s":0.408},{"p":"C2","g":"T1/2","t":90,"s":0.36},{"p":"C2","g":"T1/2","t":95,"s":0.36},{"p":"C2","g":"T1/2","t":112,"s":0.252},{"p":"C2","g":"T1/2","t":118,"s":0.252},{"p":"C2","g":"T1/2","t":122,"s":0.252},
{"p":"C2","g":"T3","t":110,"s":0.334},{"p":"C2","g":"T3","t":112,"s":0.334},{"p":"C2","g":"T3","t":114,"s":0.334},{"p":"C2","g":"T3","t":116,"s":0.334},{"p":"C2","g":"T3","t":118,"s":0.334},{"p":"C2","g":"T3","t":120,"s":0.334},{"p":"C2","g":"T3","t":122,"s":0.334},
{"p":"C2","g":"T4","t":95,"s":0.305},{"p":"C2","g":"T4","t":104,"s":0.291},{"p":"C2","g":"T4","t":118,"s":0.19},{"p":"C2","g":"T4","t":120,"s":0.19},
{"p":"D1","g":"N0","t":100,"s":0.555},{"p":"D1","g":"N0","t":110,"s":0.526},{"p":"D1","g":"N0","t":113,"s":0.526},{"p":"D1","g":"N0","t":117,"s":0.526},{"p":"D1","g":"N0","t":128,"s":0.37},{"p":"D1","g":"N0","t":131,"s":0.37},
{"p":"D1","g":"N1","t":106,"s":0.439},{"p":"D1","g":"N1","t":109,"s":0.439},{"p":"D1","g":"N1","t":112,"s":0.439},{"p":"D1","g":"N1","t":116,"s":0.439},{"p":"D1","g":"N1","t":120,"s":0.439},{"p":"D1","g":"N1","t":124,"s":0.439},{"p":"D1","g":"N1","t":127,"s":0.439},
{"p":"D2","g":"N0","t":95,"s":0.41},{"p":"D2","g":"N0","t":100,"s":0.395},{"p":"D2","g":"N0","t":112,"s":0.294},{"p":"D2","g":"N0","t":115,"s":0.294},{"p":"D2","g":"N0","t":119,"s":0.284},{"p":"D2","g":"N0","t":122,"s":0.284},
{"p":"D2","g":"N1","t":100,"s":0.313},{"p":"D2","g":"N1","t":104,"s":0.305},{"p":"D2","g":"N1","t":110,"s":0.3},{"p":"D2","g":"N1","t":113,"s":0.3},{"p":"D2","g":"N1","t":120,"s":0.255},{"p":"D2","g":"N1","t":122,"s":0.255},
{"p":"E1","g":"M1a","t":60,"s":0.647},{"p":"E1","g":"M1a","t":70,"s":0.627},{"p":"E1","g":"M1a","t":90,"s":0.48},{"p":"E1","g":"M1a","t":93,"s":0.48},{"p":"E1","g":"M1a","t":104,"s":0.382},{"p":"E1","g":"M1a","t":110,"s":0.382},{"p":"E1","g":"M1a","t":115,"s":0.382},{"p":"E1","g":"M1a","t":120,"s":0.382},{"p":"E1","g":"M1a","t":126,"s":0.382},
{"p":"E1","g":"M1b","t":110,"s":0.5},{"p":"E1","g":"M1b","t":113,"s":0.5},{"p":"E1","g":"M1b","t":116,"s":0.5},{"p":"E1","g":"M1b","t":119,"s":0.5},{"p":"E1","g":"M1b","t":127,"s":0.42},{"p":"E1","g":"M1b","t":130,"s":0.42},{"p":"E1","g":"M1b","t":133,"s":0.42},
{"p":"E2","g":"M1b","t":112,"s":0.283},{"p":"E2","g":"M1b","t":118,"s":0.263},{"p":"E2","g":"M1b","t":120,"s":0.263},{"p":"E2","g":"M1b","t":122,"s":0.263},
{"p":"E2","g":"M1c (lung)","t":70,"s":0.585},{"p":"E2","g":"M1c (lung)","t":78,"s":0.575},{"p":"E2","g":"M1c (lung)","t":82,"s":0.575},{"p":"E2","g":"M1c (lung)","t":95,"s":0.44},{"p":"E2","g":"M1c (lung)","t":105,"s":0.41},{"p":"E2","g":"M1c (lung)","t":109,"s":0.41},{"p":"E2","g":"M1c (lung)","t":113,"s":0.41},{"p":"E2","g":"M1c (lung)","t":119,"s":0.32},
{"p":"E2","g":"M1c (liver)","t":66,"s":0.185},{"p":"E2","g":"M1c (liver)","t":75,"s":0.185},{"p":"E2","g":"M1c (liver)","t":87,"s":0.185}
],
"risk": [
{"p":"A1","g":"≤66%","t":0,"n":268},{"p":"A1","g":"≤66%","t":24,"n":217},{"p":"A1","g":"≤66%","t":48,"n":136},{"p":"A1","g":"≤66%","t":72,"n":78},{"p":"A1","g":"≤66%","t":96,"n":27},{"p":"A1","g":"≤66%","t":120,"n":4},
{"p":"A1","g":">66%","t":0,"n":542},{"p":"A1","g":">66%","t":24,"n":401},{"p":"A1","g":">66%","t":48,"n":225},{"p":"A1","g":">66%","t":72,"n":121},{"p":"A1","g":">66%","t":96,"n":57},{"p":"A1","g":">66%","t":120,"n":14},
{"p":"A2","g":"≤66%","t":0,"n":371},{"p":"A2","g":"≤66%","t":24,"n":241},{"p":"A2","g":"≤66%","t":48,"n":125},{"p":"A2","g":"≤66%","t":72,"n":63},{"p":"A2","g":"≤66%","t":96,"n":27},{"p":"A2","g":"≤66%","t":120,"n":5},
{"p":"A2","g":">66%","t":0,"n":1184},{"p":"A2","g":">66%","t":24,"n":759},{"p":"A2","g":">66%","t":48,"n":349},{"p":"A2","g":">66%","t":72,"n":149},{"p":"A2","g":">66%","t":96,"n":56},{"p":"A2","g":">66%","t":120,"n":8},
{"p":"B1","g":"≤8","t":0,"n":348},{"p":"B1","g":"≤8","t":24,"n":275},{"p":"B1","g":"≤8","t":48,"n":173},{"p":"B1","g":"≤8","t":72,"n":94},{"p":"B1","g":"≤8","t":96,"n":38},{"p":"B1","g":"≤8","t":120,"n":5},
{"p":"B1","g":">8","t":0,"n":493},{"p":"B1","g":">8","t":24,"n":364},{"p":"B1","g":">8","t":48,"n":195},{"p":"B1","g":">8","t":72,"n":109},{"p":"B1","g":">8","t":96,"n":47},{"p":"B1","g":">8","t":120,"n":13},
{"p":"B2","g":"≤8","t":0,"n":561},{"p":"B2","g":"≤8","t":24,"n":397},{"p":"B2","g":"≤8","t":48,"n":200},{"p":"B2","g":"≤8","t":72,"n":97},{"p":"B2","g":"≤8","t":96,"n":38},{"p":"B2","g":"≤8","t":120,"n":7},
{"p":"B2","g":">8","t":0,"n":1048},{"p":"B2","g":">8","t":24,"n":642},{"p":"B2","g":">8","t":48,"n":296},{"p":"B2","g":">8","t":72,"n":125},{"p":"B2","g":">8","t":96,"n":49},{"p":"B2","g":">8","t":120,"n":6},
{"p":"C1","g":"T1/2","t":0,"n":169},{"p":"C1","g":"T1/2","t":24,"n":133},{"p":"C1","g":"T1/2","t":48,"n":67},{"p":"C1","g":"T1/2","t":72,"n":34},{"p":"C1","g":"T1/2","t":96,"n":13},{"p":"C1","g":"T1/2","t":120,"n":2},
{"p":"C1","g":"T3","t":0,"n":465},{"p":"C1","g":"T3","t":24,"n":360},{"p":"C1","g":"T3","t":48,"n":225},{"p":"C1","g":"T3","t":72,"n":131},{"p":"C1","g":"T3","t":96,"n":57},{"p":"C1","g":"T3","t":120,"n":16},
{"p":"C1","g":"T4","t":0,"n":192},{"p":"C1","g":"T4","t":24,"n":132},{"p":"C1","g":"T4","t":48,"n":67},{"p":"C1","g":"T4","t":72,"n":33},{"p":"C1","g":"T4","t":96,"n":13},{"p":"C1","g":"T4","t":120,"n":0},
{"p":"C2","g":"T1/2","t":0,"n":218},{"p":"C2","g":"T1/2","t":24,"n":139},{"p":"C2","g":"T1/2","t":48,"n":65},{"p":"C2","g":"T1/2","t":72,"n":28},{"p":"C2","g":"T1/2","t":96,"n":14},{"p":"C2","g":"T1/2","t":120,"n":3},
{"p":"C2","g":"T3","t":0,"n":815},{"p":"C2","g":"T3","t":24,"n":557},{"p":"C2","g":"T3","t":48,"n":270},{"p":"C2","g":"T3","t":72,"n":133},{"p":"C2","g":"T3","t":96,"n":47},{"p":"C2","g":"T3","t":120,"n":6},
{"p":"C2","g":"T4","t":0,"n":535},{"p":"C2","g":"T4","t":24,"n":320},{"p":"C2","g":"T4","t":48,"n":147},{"p":"C2","g":"T4","t":72,"n":54},{"p":"C2","g":"T4","t":96,"n":23},{"p":"C2","g":"T4","t":120,"n":4},
{"p":"D1","g":"N0","t":0,"n":342},{"p":"D1","g":"N0","t":24,"n":273},{"p":"D1","g":"N0","t":48,"n":163},{"p":"D1","g":"N0","t":72,"n":90},{"p":"D1","g":"N0","t":96,"n":39},{"p":"D1","g":"N0","t":120,"n":9},
{"p":"D1","g":"N1","t":0,"n":492},{"p":"D1","g":"N1","t":24,"n":359},{"p":"D1","g":"N1","t":48,"n":201},{"p":"D1","g":"N1","t":72,"n":110},{"p":"D1","g":"N1","t":96,"n":45},{"p":"D1","g":"N1","t":120,"n":9},
{"p":"D2","g":"N0","t":0,"n":589},{"p":"D2","g":"N0","t":24,"n":395},{"p":"D2","g":"N0","t":48,"n":189},{"p":"D2","g":"N0","t":72,"n":89},{"p":"D2","g":"N0","t":96,"n":42},{"p":"D2","g":"N0","t":120,"n":9},
{"p":"D2","g":"N1","t":0,"n":1009},{"p":"D2","g":"N1","t":24,"n":636},{"p":"D2","g":"N1","t":48,"n":302},{"p":"D2","g":"N1","t":72,"n":129},{"p":"D2","g":"N1","t":96,"n":44},{"p":"D2","g":"N1","t":120,"n":4},
{"p":"E1","g":"M1a","t":0,"n":188},{"p":"E1","g":"M1a","t":24,"n":141},{"p":"E1","g":"M1a","t":48,"n":63},{"p":"E1","g":"M1a","t":72,"n":30},{"p":"E1","g":"M1a","t":96,"n":10},{"p":"E1","g":"M1a","t":120,"n":3},
{"p":"E1","g":"M1b","t":0,"n":653},{"p":"E1","g":"M1b","t":24,"n":498},{"p":"E1","g":"M1b","t":48,"n":305},{"p":"E1","g":"M1b","t":72,"n":173},{"p":"E1","g":"M1b","t":96,"n":75},{"p":"E1","g":"M1b","t":120,"n":15},
{"p":"E2","g":"M1b","t":0,"n":1308},{"p":"E2","g":"M1b","t":24,"n":848},{"p":"E2","g":"M1b","t":48,"n":403},{"p":"E2","g":"M1b","t":72,"n":183},{"p":"E2","g":"M1b","t":96,"n":69},{"p":"E2","g":"M1b","t":120,"n":9},
{"p":"E2","g":"M1c (lung)","t":0,"n":268},{"p":"E2","g":"M1c (lung)","t":24,"n":177},{"p":"E2","g":"M1c (lung)","t":48,"n":86},{"p":"E2","g":"M1c (lung)","t":72,"n":37},{"p":"E2","g":"M1c (lung)","t":96,"n":18},{"p":"E2","g":"M1c (lung)","t":120,"n":4},
{"p":"E2","g":"M1c (liver)","t":0,"n":33},{"p":"E2","g":"M1c (liver)","t":24,"n":14},{"p":"E2","g":"M1c (liver)","t":48,"n":7},{"p":"E2","g":"M1c (liver)","t":72,"n":2},{"p":"E2","g":"M1c (liver)","t":96,"n":0},{"p":"E2","g":"M1c (liver)","t":120,"n":0}
]
},
"vconcat": [
{"hconcat": [
 {"vconcat": [
  {"width": 265, "height": 170,
   "title": "(A)",
   "resolve": {"axis": {"x": "independent", "y": "independent"}},
   "layer": [
    {"data": {"name": "km"}, "transform": [{"filter": "datum.p == 'A1'"}],
     "mark": {"type": "line", "interpolate": "step-after", "strokeWidth": 1.3},
     "encoding": {
      "x": {"field": "t", "type": "quantitative", "scale": {"domain": [0, 139], "nice": false}, "axis": {"values": [0,24,48,72,96,120], "tickSize": 5, "labelPadding": 3, "labelFlush": false, "title": null}},
      "y": {"field": "s", "type": "quantitative", "scale": {"domain": [0, 1], "nice": false}, "axis": {"values": [0,0.2,0.4,0.6,0.8,1], "format": ".1f", "tickSize": 5, "labelPadding": 1.5, "title": "Overall survival rate", "titlePadding": 8}},
      "color": {"field": "g", "type": "nominal", "scale": {"domain": ["≤66%", ">66%"], "range": ["#1f5fdc", "#d42038"]}, "legend": {"legendX": 10, "legendY": 108, "title": ["Percentage of", "biopsy positive core"]}}}},
    {"data": {"name": "cens"}, "transform": [{"filter": "datum.p == 'A1'"}],
     "mark": {"type": "tick", "orient": "vertical", "size": 5, "thickness": 1},
     "encoding": {"x": {"field": "t", "type": "quantitative", "axis": {"values": [12,36,60,84,108,132], "labels": false, "tickSize": 3, "domain": false, "title": null, "orient": "bottom"}}, "y": {"field": "s", "type": "quantitative", "axis": {"values": [0.1,0.3,0.5,0.7,0.9], "labels": false, "tickSize": 3, "domain": false, "title": null, "orient": "left"}}, "color": {"field": "g", "type": "nominal"}}},
    {"data": {"values": [{}]}, "mark": {"type": "text", "fontSize": 11}, "encoding": {"x": {"datum": 68.6, "axis": null}, "y": {"datum": 0.912, "axis": null}, "text": {"value": "Low burden"}}},
    {"data": {"values": [{}]}, "mark": {"type": "text", "fontSize": 10, "align": "right"}, "encoding": {"x": {"datum": 130.6, "axis": null}, "y": {"datum": 0.096, "axis": null}, "text": {"value": "P = 0.0030*"}}}
   ]},
  {"width": 265, "height": 27.4, "view": {"stroke": null},
   "data": {"name": "risk"}, "transform": [{"filter": "datum.p == 'A1'"}],
   "mark": {"type": "text", "fontSize": 9.5},
   "encoding": {
    "x": {"field": "t", "type": "quantitative", "scale": {"domain": [0, 139], "nice": false}, "axis": null},
    "y": {"field": "g", "type": "nominal", "scale": {"type": "point", "padding": 0.5, "domain": ["≤66%", ">66%"]}, "axis": {"title": "No. at risk", "titleAngle": 0, "titleAlign": "left", "titleBaseline": "middle", "titleX": -86, "titleY": -6.85, "domain": false, "ticks": false, "tickSize": 0, "labelAlign": "left", "labelPadding": 86, "labelFontSize": 9.5, "labelColor": {"condition": [{"test": "datum.value == '≤66%'", "value": "#3f80e6"}], "value": "#d8344a"}}},
    "text": {"field": "n", "type": "quantitative", "format": ","},
    "color": {"field": "g", "type": "nominal", "scale": {"domain": ["≤66%", ">66%"], "range": ["#3f80e6", "#d8344a"]}, "legend": null}}}
 ], "spacing": 29, "bounds": "flush", "resolve": {"scale": {"color": "independent", "x": "independent", "y": "independent"}}},
 {"vconcat": [
  {"width": 265, "height": 170,
   "resolve": {"axis": {"x": "independent", "y": "independent"}},
   "layer": [
    {"data": {"name": "km"}, "transform": [{"filter": "datum.p == 'A2'"}],
     "mark": {"type": "line", "interpolate": "step-after", "strokeWidth": 1.3},
     "encoding": {
      "x": {"field": "t", "type": "quantitative", "scale": {"domain": [0, 129], "nice": false}, "axis": {"values": [0,24,48,72,96,120], "tickSize": 5, "labelPadding": 3, "labelFlush": false, "title": null}},
      "y": {"field": "s", "type": "quantitative", "scale": {"domain": [0, 1], "nice": false}, "axis": {"values": [0,0.2,0.4,0.6,0.8,1], "format": ".1f", "tickSize": 5, "labelPadding": 1.5, "title": "Overall survival rate", "titlePadding": 8}},
      "color": {"field": "g", "type": "nominal", "scale": {"domain": ["≤66%", ">66%"], "range": ["#1f5fdc", "#d42038"]}, "legend": {"legendX": 10, "legendY": 106, "title": ["Percentage of", "biopsy positive core"]}}}},
    {"data": {"name": "cens"}, "transform": [{"filter": "datum.p == 'A2'"}],
     "mark": {"type": "tick", "orient": "vertical", "size": 5, "thickness": 1},
     "encoding": {"x": {"field": "t", "type": "quantitative", "axis": {"values": [12,36,60,84,108], "labels": false, "tickSize": 3, "domain": false, "title": null, "orient": "bottom"}}, "y": {"field": "s", "type": "quantitative", "axis": {"values": [0.1,0.3,0.5,0.7,0.9], "labels": false, "tickSize": 3, "domain": false, "title": null, "orient": "left"}}, "color": {"field": "g", "type": "nominal"}}},
    {"data": {"values": [{}]}, "mark": {"type": "text", "fontSize": 11}, "encoding": {"x": {"datum": 63.1, "axis": null}, "y": {"datum": 0.92, "axis": null}, "text": {"value": "High burden"}}},
    {"data": {"values": [{}]}, "mark": {"type": "text", "fontSize": 10}, "encoding": {"x": {"datum": 107.6, "axis": null}, "y": {"datum": 0.565, "axis": null}, "text": {"value": "P = 0.17"}}}
   ]},
  {"width": 265, "height": 27.4, "view": {"stroke": null},
   "data": {"name": "risk"}, "transform": [{"filter": "datum.p == 'A2'"}],
   "mark": {"type": "text", "fontSize": 9.5},
   "encoding": {
    "x": {"field": "t", "type": "quantitative", "scale": {"domain": [0, 129], "nice": false}, "axis": null},
    "y": {"field": "g", "type": "nominal", "scale": {"type": "point", "padding": 0.5, "domain": ["≤66%", ">66%"]}, "axis": {"title": "No. at risk", "titleAngle": 0, "titleAlign": "left", "titleBaseline": "middle", "titleX": -87, "titleY": -6.85, "domain": false, "ticks": false, "tickSize": 0, "labelAlign": "left", "labelPadding": 87, "labelFontSize": 9.5, "labelColor": {"condition": [{"test": "datum.value == '≤66%'", "value": "#3f80e6"}], "value": "#d8344a"}}},
    "text": {"field": "n", "type": "quantitative", "format": ","},
    "color": {"field": "g", "type": "nominal", "scale": {"domain": ["≤66%", ">66%"], "range": ["#3f80e6", "#d8344a"]}, "legend": null}}}
 ], "spacing": 29, "bounds": "flush", "resolve": {"scale": {"color": "independent", "x": "independent", "y": "independent"}}}
], "spacing": 0, "resolve": {"scale": {"color": "independent", "x": "independent", "y": "independent"}}},
{"hconcat": [
 {"vconcat": [
  {"width": 265, "height": 170,
   "title": "(B)",
   "resolve": {"axis": {"x": "independent", "y": "independent"}},
   "layer": [
    {"data": {"name": "km"}, "transform": [{"filter": "datum.p == 'B1'"}],
     "mark": {"type": "line", "interpolate": "step-after", "strokeWidth": 1.3},
     "encoding": {
      "x": {"field": "t", "type": "quantitative", "scale": {"domain": [0, 139], "nice": false}, "axis": {"values": [0,24,48,72,96,120], "tickSize": 5, "labelPadding": 3, "labelFlush": false, "title": null}},
      "y": {"field": "s", "type": "quantitative", "scale": {"domain": [0, 1], "nice": false}, "axis": {"values": [0,0.2,0.4,0.6,0.8,1], "format": ".1f", "tickSize": 5, "labelPadding": 1.5, "title": "Overall survival rate", "titlePadding": 8}},
      "color": {"field": "g", "type": "nominal", "scale": {"domain": ["Group ≤IV", "Group V"], "range": ["#1f5fdc", "#d42038"]}, "legend": {"legendX": 10, "legendY": 122, "title": "Gleason grade group"}}}},
    {"data": {"name": "cens"}, "transform": [{"filter": "datum.p == 'B1'"}],
     "mark": {"type": "tick", "orient": "vertical", "size": 5, "thickness": 1},
     "encoding": {"x": {"field": "t", "type": "quantitative", "axis": {"values": [12,36,60,84,108,132], "labels": false, "tickSize": 3, "domain": false, "title": null, "orient": "bottom"}}, "y": {"field": "s", "type": "quantitative", "axis": {"values": [0.1,0.3,0.5,0.7,0.9], "labels": false, "tickSize": 3, "domain": false, "title": null, "orient": "left"}}, "color": {"field": "g", "type": "nominal"}}},
    {"data": {"values": [{}]}, "mark": {"type": "text", "fontSize": 11}, "encoding": {"x": {"datum": 70.6, "axis": null}, "y": {"datum": 0.935, "axis": null}, "text": {"value": "Low burden"}}},
    {"data": {"values": [{}]}, "mark": {"type": "text", "fontSize": 10, "align": "right"}, "encoding": {"x": {"datum": 135, "axis": null}, "y": {"datum": 0.069, "axis": null}, "text": {"value": "P < 0.0001*"}}}
   ]},
  {"width": 265, "height": 27.4, "view": {"stroke": null},
   "data": {"name": "risk"}, "transform": [{"filter": "datum.p == 'B1'"}],
   "mark": {"type": "text", "fontSize": 9.5},
   "encoding": {
    "x": {"field": "t", "type": "quantitative", "scale": {"domain": [0, 139], "nice": false}, "axis": null},
    "y": {"field": "g", "type": "nominal", "scale": {"type": "point", "padding": 0.5, "domain": ["≤8", ">8"]}, "axis": {"title": "No. at risk", "titleAngle": 0, "titleAlign": "left", "titleBaseline": "middle", "titleX": -86, "titleY": -6.85, "domain": false, "ticks": false, "tickSize": 0, "labelAlign": "left", "labelPadding": 86, "labelFontSize": 9.5, "labelColor": {"condition": [{"test": "datum.value == '≤8'", "value": "#3f80e6"}], "value": "#d8344a"}}},
    "text": {"field": "n", "type": "quantitative", "format": ","},
    "color": {"field": "g", "type": "nominal", "scale": {"domain": ["≤8", ">8"], "range": ["#3f80e6", "#d8344a"]}, "legend": null}}}
 ], "spacing": 29, "bounds": "flush", "resolve": {"scale": {"color": "independent", "x": "independent", "y": "independent"}}},
 {"vconcat": [
  {"width": 265, "height": 170,
   "resolve": {"axis": {"x": "independent", "y": "independent"}},
   "layer": [
    {"data": {"name": "km"}, "transform": [{"filter": "datum.p == 'B2'"}],
     "mark": {"type": "line", "interpolate": "step-after", "strokeWidth": 1.3},
     "encoding": {
      "x": {"field": "t", "type": "quantitative", "scale": {"domain": [0, 129], "nice": false}, "axis": {"values": [0,24,48,72,96,120], "tickSize": 5, "labelPadding": 3, "labelFlush": false, "title": null}},
      "y": {"field": "s", "type": "quantitative", "scale": {"domain": [0, 1], "nice": false}, "axis": {"values": [0,0.2,0.4,0.6,0.8,1], "format": ".1f", "tickSize": 5, "labelPadding": 1.5, "title": "Overall survival rate", "titlePadding": 8}},
      "color": {"field": "g", "type": "nominal", "scale": {"domain": ["Group ≤IV", "Group V"], "range": ["#1f5fdc", "#d42038"]}, "legend": {"legendX": 10, "legendY": 116, "title": "Gleason grade group"}}}},
    {"data": {"name": "cens"}, "transform": [{"filter": "datum.p == 'B2'"}],
     "mark": {"type": "tick", "orient": "vertical", "size": 5, "thickness": 1},
     "encoding": {"x": {"field": "t", "type": "quantitative", "axis": {"values": [12,36,60,84,108], "labels": false, "tickSize": 3, "domain": false, "title": null, "orient": "bottom"}}, "y": {"field": "s", "type": "quantitative", "axis": {"values": [0.1,0.3,0.5,0.7,0.9], "labels": false, "tickSize": 3, "domain": false, "title": null, "orient": "left"}}, "color": {"field": "g", "type": "nominal"}}},
    {"data": {"values": [{}]}, "mark": {"type": "text", "fontSize": 11}, "encoding": {"x": {"datum": 64.4, "axis": null}, "y": {"datum": 0.92, "axis": null}, "text": {"value": "High burden"}}},
    {"data": {"values": [{}]}, "mark": {"type": "text", "fontSize": 10, "align": "right"}, "encoding": {"x": {"datum": 125.8, "axis": null}, "y": {"datum": 0.706, "axis": null}, "text": {"value": "P < 0.0001*"}}}
   ]},
  {"width": 265, "height": 27.4, "view": {"stroke": null},
   "data": {"name": "risk"}, "transform": [{"filter": "datum.p == 'B2'"}],
   "mark": {"type": "text", "fontSize": 9.5},
   "encoding": {
    "x": {"field": "t", "type": "quantitative", "scale": {"domain": [0, 129], "nice": false}, "axis": null},
    "y": {"field": "g", "type": "nominal", "scale": {"type": "point", "padding": 0.5, "domain": ["≤8", ">8"]}, "axis": {"title": "No. at risk", "titleAngle": 0, "titleAlign": "left", "titleBaseline": "middle", "titleX": -87, "titleY": -6.85, "domain": false, "ticks": false, "tickSize": 0, "labelAlign": "left", "labelPadding": 87, "labelFontSize": 9.5, "labelColor": {"condition": [{"test": "datum.value == '≤8'", "value": "#3f80e6"}], "value": "#d8344a"}}},
    "text": {"field": "n", "type": "quantitative", "format": ","},
    "color": {"field": "g", "type": "nominal", "scale": {"domain": ["≤8", ">8"], "range": ["#3f80e6", "#d8344a"]}, "legend": null}}}
 ], "spacing": 29, "bounds": "flush", "resolve": {"scale": {"color": "independent", "x": "independent", "y": "independent"}}}
], "spacing": 0, "resolve": {"scale": {"color": "independent", "x": "independent", "y": "independent"}}},
{"hconcat": [
 {"vconcat": [
  {"width": 265, "height": 170,
   "title": "(C)",
   "resolve": {"axis": {"x": "independent", "y": "independent"}},
   "layer": [
    {"data": {"name": "km"}, "transform": [{"filter": "datum.p == 'C1'"}],
     "mark": {"type": "line", "interpolate": "step-after", "strokeWidth": 1.3},
     "encoding": {
      "x": {"field": "t", "type": "quantitative", "scale": {"domain": [0, 139], "nice": false}, "axis": {"values": [0,24,48,72,96,120], "tickSize": 5, "labelPadding": 3, "labelFlush": false, "title": null}},
      "y": {"field": "s", "type": "quantitative", "scale": {"domain": [0, 1], "nice": false}, "axis": {"values": [0,0.2,0.4,0.6,0.8,1], "format": ".1f", "tickSize": 5, "labelPadding": 1.5, "title": "Overall survival rate", "titlePadding": 8}},
      "color": {"field": "g", "type": "nominal", "scale": {"domain": ["T1/2", "T3", "T4"], "range": ["#1f5fdc", "#22a022", "#d42038"]}, "legend": {"legendX": 14, "legendY": 71, "title": "Clinical T-stage"}}}},
    {"data": {"name": "cens"}, "transform": [{"filter": "datum.p == 'C1'"}],
     "mark": {"type": "tick", "orient": "vertical", "size": 5, "thickness": 1},
     "encoding": {"x": {"field": "t", "type": "quantitative", "axis": {"values": [12,36,60,84,108,132], "labels": false, "tickSize": 3, "domain": false, "title": null, "orient": "bottom"}}, "y": {"field": "s", "type": "quantitative", "axis": {"values": [0.1,0.3,0.5,0.7,0.9], "labels": false, "tickSize": 3, "domain": false, "title": null, "orient": "left"}}, "color": {"field": "g", "type": "nominal"}}},
    {"data": {"values": [{}]}, "mark": {"type": "text", "fontSize": 11}, "encoding": {"x": {"datum": 68.2, "axis": null}, "y": {"datum": 0.912, "axis": null}, "text": {"value": "Low burden"}}},
    {"data": {"values": [{}]}, "mark": {"type": "text", "fontSize": 10, "align": "left"}, "encoding": {"x": {"datum": 7.2, "axis": null}, "y": {"datum": 0.19, "axis": null}, "text": {"value": "T1/2 vs T3; P = 0.27"}}},
    {"data": {"values": [{}]}, "mark": {"type": "text", "fontSize": 10, "align": "left"}, "encoding": {"x": {"datum": 7.2, "axis": null}, "y": {"datum": 0.122, "axis": null}, "text": {"value": "T1/2 vs T4; P < 0.0001*"}}}
   ]},
  {"width": 265, "height": 41.1, "view": {"stroke": null},
   "data": {"name": "risk"}, "transform": [{"filter": "datum.p == 'C1'"}],
   "mark": {"type": "text", "fontSize": 9.5},
   "encoding": {
    "x": {"field": "t", "type": "quantitative", "scale": {"domain": [0, 139], "nice": false}, "axis": null},
    "y": {"field": "g", "type": "nominal", "scale": {"type": "point", "padding": 0.5, "domain": ["T1/2", "T3", "T4"]}, "axis": {"title": "No. at risk", "titleAngle": 0, "titleAlign": "left", "titleBaseline": "middle", "titleX": -86, "titleY": -6.85, "domain": false, "ticks": false, "tickSize": 0, "labelAlign": "left", "labelPadding": 86, "labelFontSize": 9.5, "labelColor": {"condition": [{"test": "datum.value == 'T1/2'", "value": "#3f80e6"}, {"test": "datum.value == 'T3'", "value": "#2fa52f"}], "value": "#d8344a"}}},
    "text": {"field": "n", "type": "quantitative", "format": ","},
    "color": {"field": "g", "type": "nominal", "scale": {"domain": ["T1/2", "T3", "T4"], "range": ["#3f80e6", "#2fa52f", "#d8344a"]}, "legend": null}}}
 ], "spacing": 29, "bounds": "flush", "resolve": {"scale": {"color": "independent", "x": "independent", "y": "independent"}}},
 {"vconcat": [
  {"width": 265, "height": 170,
   "resolve": {"axis": {"x": "independent", "y": "independent"}},
   "layer": [
    {"data": {"name": "km"}, "transform": [{"filter": "datum.p == 'C2'"}],
     "mark": {"type": "line", "interpolate": "step-after", "strokeWidth": 1.3},
     "encoding": {
      "x": {"field": "t", "type": "quantitative", "scale": {"domain": [0, 129], "nice": false}, "axis": {"values": [0,24,48,72,96,120], "tickSize": 5, "labelPadding": 3, "labelFlush": false, "title": null}},
      "y": {"field": "s", "type": "quantitative", "scale": {"domain": [0, 1], "nice": false}, "axis": {"values": [0,0.2,0.4,0.6,0.8,1], "format": ".1f", "tickSize": 5, "labelPadding": 1.5, "title": "Overall survival rate", "titlePadding": 8}},
      "color": {"field": "g", "type": "nominal", "scale": {"domain": ["T1/2", "T3", "T4"], "range": ["#1f5fdc", "#22a022", "#d42038"]}, "legend": {"legendX": 182, "legendY": 28.5, "title": "Clinical T-stage"}}}},
    {"data": {"name": "cens"}, "transform": [{"filter": "datum.p == 'C2'"}],
     "mark": {"type": "tick", "orient": "vertical", "size": 5, "thickness": 1},
     "encoding": {"x": {"field": "t", "type": "quantitative", "axis": {"values": [12,36,60,84,108], "labels": false, "tickSize": 3, "domain": false, "title": null, "orient": "bottom"}}, "y": {"field": "s", "type": "quantitative", "axis": {"values": [0.1,0.3,0.5,0.7,0.9], "labels": false, "tickSize": 3, "domain": false, "title": null, "orient": "left"}}, "color": {"field": "g", "type": "nominal"}}},
    {"data": {"values": [{}]}, "mark": {"type": "text", "fontSize": 11}, "encoding": {"x": {"datum": 63.3, "axis": null}, "y": {"datum": 0.907, "axis": null}, "text": {"value": "High burden"}}},
    {"data": {"values": [{}]}, "mark": {"type": "text", "fontSize": 10, "align": "left"}, "encoding": {"x": {"datum": 6.8, "axis": null}, "y": {"datum": 0.184, "axis": null}, "text": {"value": "T1/2 vs T3; P = 0.90"}}},
    {"data": {"values": [{}]}, "mark": {"type": "text", "fontSize": 10, "align": "left"}, "encoding": {"x": {"datum": 6.8, "axis": null}, "y": {"datum": 0.117, "axis": null}, "text": {"value": "T1/2 vs T4; P = 0.027*"}}}
   ]},
  {"width": 265, "height": 41.1, "view": {"stroke": null},
   "data": {"name": "risk"}, "transform": [{"filter": "datum.p == 'C2'"}],
   "mark": {"type": "text", "fontSize": 9.5},
   "encoding": {
    "x": {"field": "t", "type": "quantitative", "scale": {"domain": [0, 129], "nice": false}, "axis": null},
    "y": {"field": "g", "type": "nominal", "scale": {"type": "point", "padding": 0.5, "domain": ["T1/2", "T3", "T4"]}, "axis": {"title": "No. at risk", "titleAngle": 0, "titleAlign": "left", "titleBaseline": "middle", "titleX": -87, "titleY": -6.85, "domain": false, "ticks": false, "tickSize": 0, "labelAlign": "left", "labelPadding": 87, "labelFontSize": 9.5, "labelColor": {"condition": [{"test": "datum.value == 'T1/2'", "value": "#3f80e6"}, {"test": "datum.value == 'T3'", "value": "#2fa52f"}], "value": "#d8344a"}}},
    "text": {"field": "n", "type": "quantitative", "format": ","},
    "color": {"field": "g", "type": "nominal", "scale": {"domain": ["T1/2", "T3", "T4"], "range": ["#3f80e6", "#2fa52f", "#d8344a"]}, "legend": null}}}
 ], "spacing": 29, "bounds": "flush", "resolve": {"scale": {"color": "independent", "x": "independent", "y": "independent"}}}
], "spacing": 0, "resolve": {"scale": {"color": "independent", "x": "independent", "y": "independent"}}},
{"hconcat": [
 {"vconcat": [
  {"width": 265, "height": 170,
   "title": "(D)",
   "resolve": {"axis": {"x": "independent", "y": "independent"}},
   "layer": [
    {"data": {"name": "km"}, "transform": [{"filter": "datum.p == 'D1'"}],
     "mark": {"type": "line", "interpolate": "step-after", "strokeWidth": 1.3},
     "encoding": {
      "x": {"field": "t", "type": "quantitative", "scale": {"domain": [0, 139], "nice": false}, "axis": {"values": [0,24,48,72,96,120], "tickSize": 5, "labelPadding": 3, "labelFlush": false, "title": null}},
      "y": {"field": "s", "type": "quantitative", "scale": {"domain": [0, 1], "nice": false}, "axis": {"values": [0,0.2,0.4,0.6,0.8,1], "format": ".1f", "tickSize": 5, "labelPadding": 1.5, "title": "Overall survival rate", "titlePadding": 8}},
      "color": {"field": "g", "type": "nominal", "scale": {"domain": ["N0", "N1"], "range": ["#1f5fdc", "#d42038"]}, "legend": {"legendX": 187, "legendY": 24, "titlePadding": 6, "title": "Clinical N-stage"}}}},
    {"data": {"name": "cens"}, "transform": [{"filter": "datum.p == 'D1'"}],
     "mark": {"type": "tick", "orient": "vertical", "size": 5, "thickness": 1},
     "encoding": {"x": {"field": "t", "type": "quantitative", "axis": {"values": [12,36,60,84,108,132], "labels": false, "tickSize": 3, "domain": false, "title": null, "orient": "bottom"}}, "y": {"field": "s", "type": "quantitative", "axis": {"values": [0.1,0.3,0.5,0.7,0.9], "labels": false, "tickSize": 3, "domain": false, "title": null, "orient": "left"}}, "color": {"field": "g", "type": "nominal"}}},
    {"data": {"values": [{}]}, "mark": {"type": "text", "fontSize": 11}, "encoding": {"x": {"datum": 64.7, "axis": null}, "y": {"datum": 0.9, "axis": null}, "text": {"value": "Low burden"}}},
    {"data": {"values": [{}]}, "mark": {"type": "text", "fontSize": 10, "align": "left"}, "encoding": {"x": {"datum": 11.8, "axis": null}, "y": {"datum": 0.091, "axis": null}, "text": {"value": "P = 0.025*"}}}
   ]},
  {"width": 265, "height": 27.4, "view": {"stroke": null},
   "data": {"name": "risk"}, "transform": [{"filter": "datum.p == 'D1'"}],
   "mark": {"type": "text", "fontSize": 9.5},
   "encoding": {
    "x": {"field": "t", "type": "quantitative", "scale": {"domain": [0, 139], "nice": false}, "axis": null},
    "y": {"field": "g", "type": "nominal", "scale": {"type": "point", "padding": 0.5, "domain": ["N0", "N1"]}, "axis": {"title": "No. at risk", "titleAngle": 0, "titleAlign": "left", "titleBaseline": "middle", "titleX": -86, "titleY": -6.85, "domain": false, "ticks": false, "tickSize": 0, "labelAlign": "left", "labelPadding": 86, "labelFontSize": 9.5, "labelColor": {"condition": [{"test": "datum.value == 'N0'", "value": "#3f80e6"}], "value": "#d8344a"}}},
    "text": {"field": "n", "type": "quantitative", "format": ","},
    "color": {"field": "g", "type": "nominal", "scale": {"domain": ["N0", "N1"], "range": ["#3f80e6", "#d8344a"]}, "legend": null}}}
 ], "spacing": 29, "bounds": "flush", "resolve": {"scale": {"color": "independent", "x": "independent", "y": "independent"}}},
 {"vconcat": [
  {"width": 265, "height": 170,
   "resolve": {"axis": {"x": "independent", "y": "independent"}},
   "layer": [
    {"data": {"name": "km"}, "transform": [{"filter": "datum.p == 'D2'"}],
     "mark": {"type": "line", "interpolate": "step-after", "strokeWidth": 1.3},
     "encoding": {
      "x": {"field": "t", "type": "quantitative", "scale": {"domain": [0, 129], "nice": false}, "axis": {"values": [0,24,48,72,96,120], "tickSize": 5, "labelPadding": 3, "labelFlush": false, "title": null}},
      "y": {"field": "s", "type": "quantitative", "scale": {"domain": [0, 1], "nice": false}, "axis": {"values": [0,0.2,0.4,0.6,0.8,1], "format": ".1f", "tickSize": 5, "labelPadding": 1.5, "title": "Overall survival rate", "titlePadding": 8}},
      "color": {"field": "g", "type": "nominal", "scale": {"domain": ["N0", "N1"], "range": ["#1f5fdc", "#d42038"]}, "legend": {"legendX": 186, "legendY": 22, "titlePadding": 6, "title": "Clinical N-stage"}}}},
    {"data": {"name": "cens"}, "transform": [{"filter": "datum.p == 'D2'"}],
     "mark": {"type": "tick", "orient": "vertical", "size": 5, "thickness": 1},
     "encoding": {"x": {"field": "t", "type": "quantitative", "axis": {"values": [12,36,60,84,108], "labels": false, "tickSize": 3, "domain": false, "title": null, "orient": "bottom"}}, "y": {"field": "s", "type": "quantitative", "axis": {"values": [0.1,0.3,0.5,0.7,0.9], "labels": false, "tickSize": 3, "domain": false, "title": null, "orient": "left"}}, "color": {"field": "g", "type": "nominal"}}},
    {"data": {"values": [{}]}, "mark": {"type": "text", "fontSize": 11}, "encoding": {"x": {"datum": 60.2, "axis": null}, "y": {"datum": 0.894, "axis": null}, "text": {"value": "High burden"}}},
    {"data": {"values": [{}]}, "mark": {"type": "text", "fontSize": 10, "align": "left"}, "encoding": {"x": {"datum": 9.3, "axis": null}, "y": {"datum": 0.091, "axis": null}, "text": {"value": "P = 0.36"}}}
   ]},
  {"width": 265, "height": 27.4, "view": {"stroke": null},
   "data": {"name": "risk"}, "transform": [{"filter": "datum.p == 'D2'"}],
   "mark": {"type": "text", "fontSize": 9.5},
   "encoding": {
    "x": {"field": "t", "type": "quantitative", "scale": {"domain": [0, 129], "nice": false}, "axis": null},
    "y": {"field": "g", "type": "nominal", "scale": {"type": "point", "padding": 0.5, "domain": ["N0", "N1"]}, "axis": {"title": "No. at risk", "titleAngle": 0, "titleAlign": "left", "titleBaseline": "middle", "titleX": -87, "titleY": -6.85, "domain": false, "ticks": false, "tickSize": 0, "labelAlign": "left", "labelPadding": 87, "labelFontSize": 9.5, "labelColor": {"condition": [{"test": "datum.value == 'N0'", "value": "#3f80e6"}], "value": "#d8344a"}}},
    "text": {"field": "n", "type": "quantitative", "format": ","},
    "color": {"field": "g", "type": "nominal", "scale": {"domain": ["N0", "N1"], "range": ["#3f80e6", "#d8344a"]}, "legend": null}}}
 ], "spacing": 29, "bounds": "flush", "resolve": {"scale": {"color": "independent", "x": "independent", "y": "independent"}}}
], "spacing": 0, "resolve": {"scale": {"color": "independent", "x": "independent", "y": "independent"}}},
{"hconcat": [
 {"vconcat": [
  {"width": 265, "height": 170,
   "title": "(E)",
   "resolve": {"axis": {"x": "independent", "y": "independent"}},
   "layer": [
    {"data": {"name": "km"}, "transform": [{"filter": "datum.p == 'E1'"}],
     "mark": {"type": "line", "interpolate": "step-after", "strokeWidth": 1.3},
     "encoding": {
      "x": {"field": "t", "type": "quantitative", "scale": {"domain": [0, 139], "nice": false}, "axis": {"values": [0,24,48,72,96,120], "tickSize": 5, "labelPadding": 3, "labelFlush": false, "title": null}},
      "y": {"field": "s", "type": "quantitative", "scale": {"domain": [0, 1], "nice": false}, "axis": {"values": [0,0.2,0.4,0.6,0.8,1], "format": ".1f", "tickSize": 5, "labelPadding": 1.5, "title": "Overall survival rate", "titlePadding": 8}},
      "color": {"field": "g", "type": "nominal", "scale": {"domain": ["M1a", "M1b"], "range": ["#1f5fdc", "#22a022"]}, "legend": {"legendX": 9, "legendY": 134, "title": null}}}},
    {"data": {"name": "cens"}, "transform": [{"filter": "datum.p == 'E1'"}],
     "mark": {"type": "tick", "orient": "vertical", "size": 5, "thickness": 1},
     "encoding": {"x": {"field": "t", "type": "quantitative", "axis": {"values": [12,36,60,84,108,132], "labels": false, "tickSize": 3, "domain": false, "title": null, "orient": "bottom"}}, "y": {"field": "s", "type": "quantitative", "axis": {"values": [0.1,0.3,0.5,0.7,0.9], "labels": false, "tickSize": 3, "domain": false, "title": null, "orient": "left"}}, "color": {"field": "g", "type": "nominal"}}},
    {"data": {"values": [{}]}, "mark": {"type": "text", "fontSize": 11}, "encoding": {"x": {"datum": 68.4, "axis": null}, "y": {"datum": 0.92, "axis": null}, "text": {"value": "Low burden"}}},
    {"data": {"values": [{}]}, "mark": {"type": "text", "fontSize": 10, "align": "right"}, "encoding": {"x": {"datum": 133, "axis": null}, "y": {"datum": 0.745, "axis": null}, "text": {"value": "M1a vs M1b; P = 0.13"}}}
   ]},
  {"width": 265, "height": 27.4, "view": {"stroke": null},
   "data": {"name": "risk"}, "transform": [{"filter": "datum.p == 'E1'"}],
   "mark": {"type": "text", "fontSize": 9.5},
   "encoding": {
    "x": {"field": "t", "type": "quantitative", "scale": {"domain": [0, 139], "nice": false}, "axis": null},
    "y": {"field": "g", "type": "nominal", "scale": {"type": "point", "padding": 0.5, "domain": ["M1a", "M1b"]}, "axis": {"title": "No. at risk", "titleAngle": 0, "titleAlign": "left", "titleBaseline": "middle", "titleX": -86, "titleY": -6.85, "domain": false, "ticks": false, "tickSize": 0, "labelAlign": "left", "labelPadding": 86, "labelFontSize": 9.5, "labelColor": {"condition": [{"test": "datum.value == 'M1a'", "value": "#3f80e6"}], "value": "#2fa52f"}}},
    "text": {"field": "n", "type": "quantitative", "format": ","},
    "color": {"field": "g", "type": "nominal", "scale": {"domain": ["M1a", "M1b"], "range": ["#3f80e6", "#2fa52f"]}, "legend": null}}}
 ], "spacing": 29, "bounds": "flush", "resolve": {"scale": {"color": "independent", "x": "independent", "y": "independent"}}},
 {"vconcat": [
  {"width": 265, "height": 170,
   "resolve": {"axis": {"x": "independent", "y": "independent"}},
   "layer": [
    {"data": {"name": "km"}, "transform": [{"filter": "datum.p == 'E2'"}],
     "mark": {"type": "line", "interpolate": "step-after", "strokeWidth": 1.3},
     "encoding": {
      "x": {"field": "t", "type": "quantitative", "scale": {"domain": [0, 129], "nice": false}, "axis": {"values": [0,24,48,72,96,120], "tickSize": 5, "labelPadding": 3, "labelFlush": false, "title": null}},
      "y": {"field": "s", "type": "quantitative", "scale": {"domain": [0, 1], "nice": false}, "axis": {"values": [0,0.2,0.4,0.6,0.8,1], "format": ".1f", "tickSize": 5, "labelPadding": 1.5, "title": "Overall survival rate", "titlePadding": 8}},
      "color": {"field": "g", "type": "nominal", "scale": {"domain": ["M1b", "M1c (lung)", "M1c (liver)"], "range": ["#22a022", "#cc6e1e", "#d42038"]}, "legend": {"legendX": 8, "legendY": 127, "title": null}}}},
    {"data": {"name": "cens"}, "transform": [{"filter": "datum.p == 'E2'"}],
     "mark": {"type": "tick", "orient": "vertical", "size": 5, "thickness": 1},
     "encoding": {"x": {"field": "t", "type": "quantitative", "axis": {"values": [12,36,60,84,108], "labels": false, "tickSize": 3, "domain": false, "title": null, "orient": "bottom"}}, "y": {"field": "s", "type": "quantitative", "axis": {"values": [0.1,0.3,0.5,0.7,0.9], "labels": false, "tickSize": 3, "domain": false, "title": null, "orient": "left"}}, "color": {"field": "g", "type": "nominal"}}},
    {"data": {"values": [{}]}, "mark": {"type": "text", "fontSize": 11}, "encoding": {"x": {"datum": 63.2, "axis": null}, "y": {"datum": 0.916, "axis": null}, "text": {"value": "High burden"}}},
    {"data": {"values": [{}]}, "mark": {"type": "text", "fontSize": 10, "align": "right"}, "encoding": {"x": {"datum": 126.5, "axis": null}, "y": {"datum": 0.8, "axis": null}, "text": {"value": "M1b vs M1c (lung); P = 0.0004*"}}},
    {"data": {"values": [{}]}, "mark": {"type": "text", "fontSize": 10, "align": "right"}, "encoding": {"x": {"datum": 126.5, "axis": null}, "y": {"datum": 0.735, "axis": null}, "text": {"value": "M1b vs M1c (liver); P = 0.0010*"}}}
   ]},
  {"width": 265, "height": 41.1, "view": {"stroke": null},
   "data": {"name": "risk"}, "transform": [{"filter": "datum.p == 'E2'"}],
   "mark": {"type": "text", "fontSize": 9.5},
   "encoding": {
    "x": {"field": "t", "type": "quantitative", "scale": {"domain": [0, 129], "nice": false}, "axis": null},
    "y": {"field": "g", "type": "nominal", "scale": {"type": "point", "padding": 0.5, "domain": ["M1b", "M1c (lung)", "M1c (liver)"]}, "axis": {"title": "No. at risk", "titleAngle": 0, "titleAlign": "left", "titleBaseline": "middle", "titleX": -87, "titleY": -6.85, "domain": false, "ticks": false, "tickSize": 0, "labelAlign": "left", "labelPadding": 87, "labelFontSize": 9.5, "labelColor": {"condition": [{"test": "datum.value == 'M1b'", "value": "#2fa52f"}, {"test": "datum.value == 'M1c (lung)'", "value": "#d47a2a"}], "value": "#d8344a"}}},
    "text": {"field": "n", "type": "quantitative", "format": ","},
    "color": {"field": "g", "type": "nominal", "scale": {"domain": ["M1b", "M1c (lung)", "M1c (liver)"], "range": ["#2fa52f", "#d47a2a", "#d8344a"]}, "legend": null}}}
 ], "spacing": 29, "bounds": "flush", "resolve": {"scale": {"color": "independent", "x": "independent", "y": "independent"}}}
], "spacing": 0, "resolve": {"scale": {"color": "independent", "x": "independent", "y": "independent"}}}
],
"spacing": 14,
"resolve": {"scale": {"color": "independent", "x": "independent", "y": "independent"}}
}
